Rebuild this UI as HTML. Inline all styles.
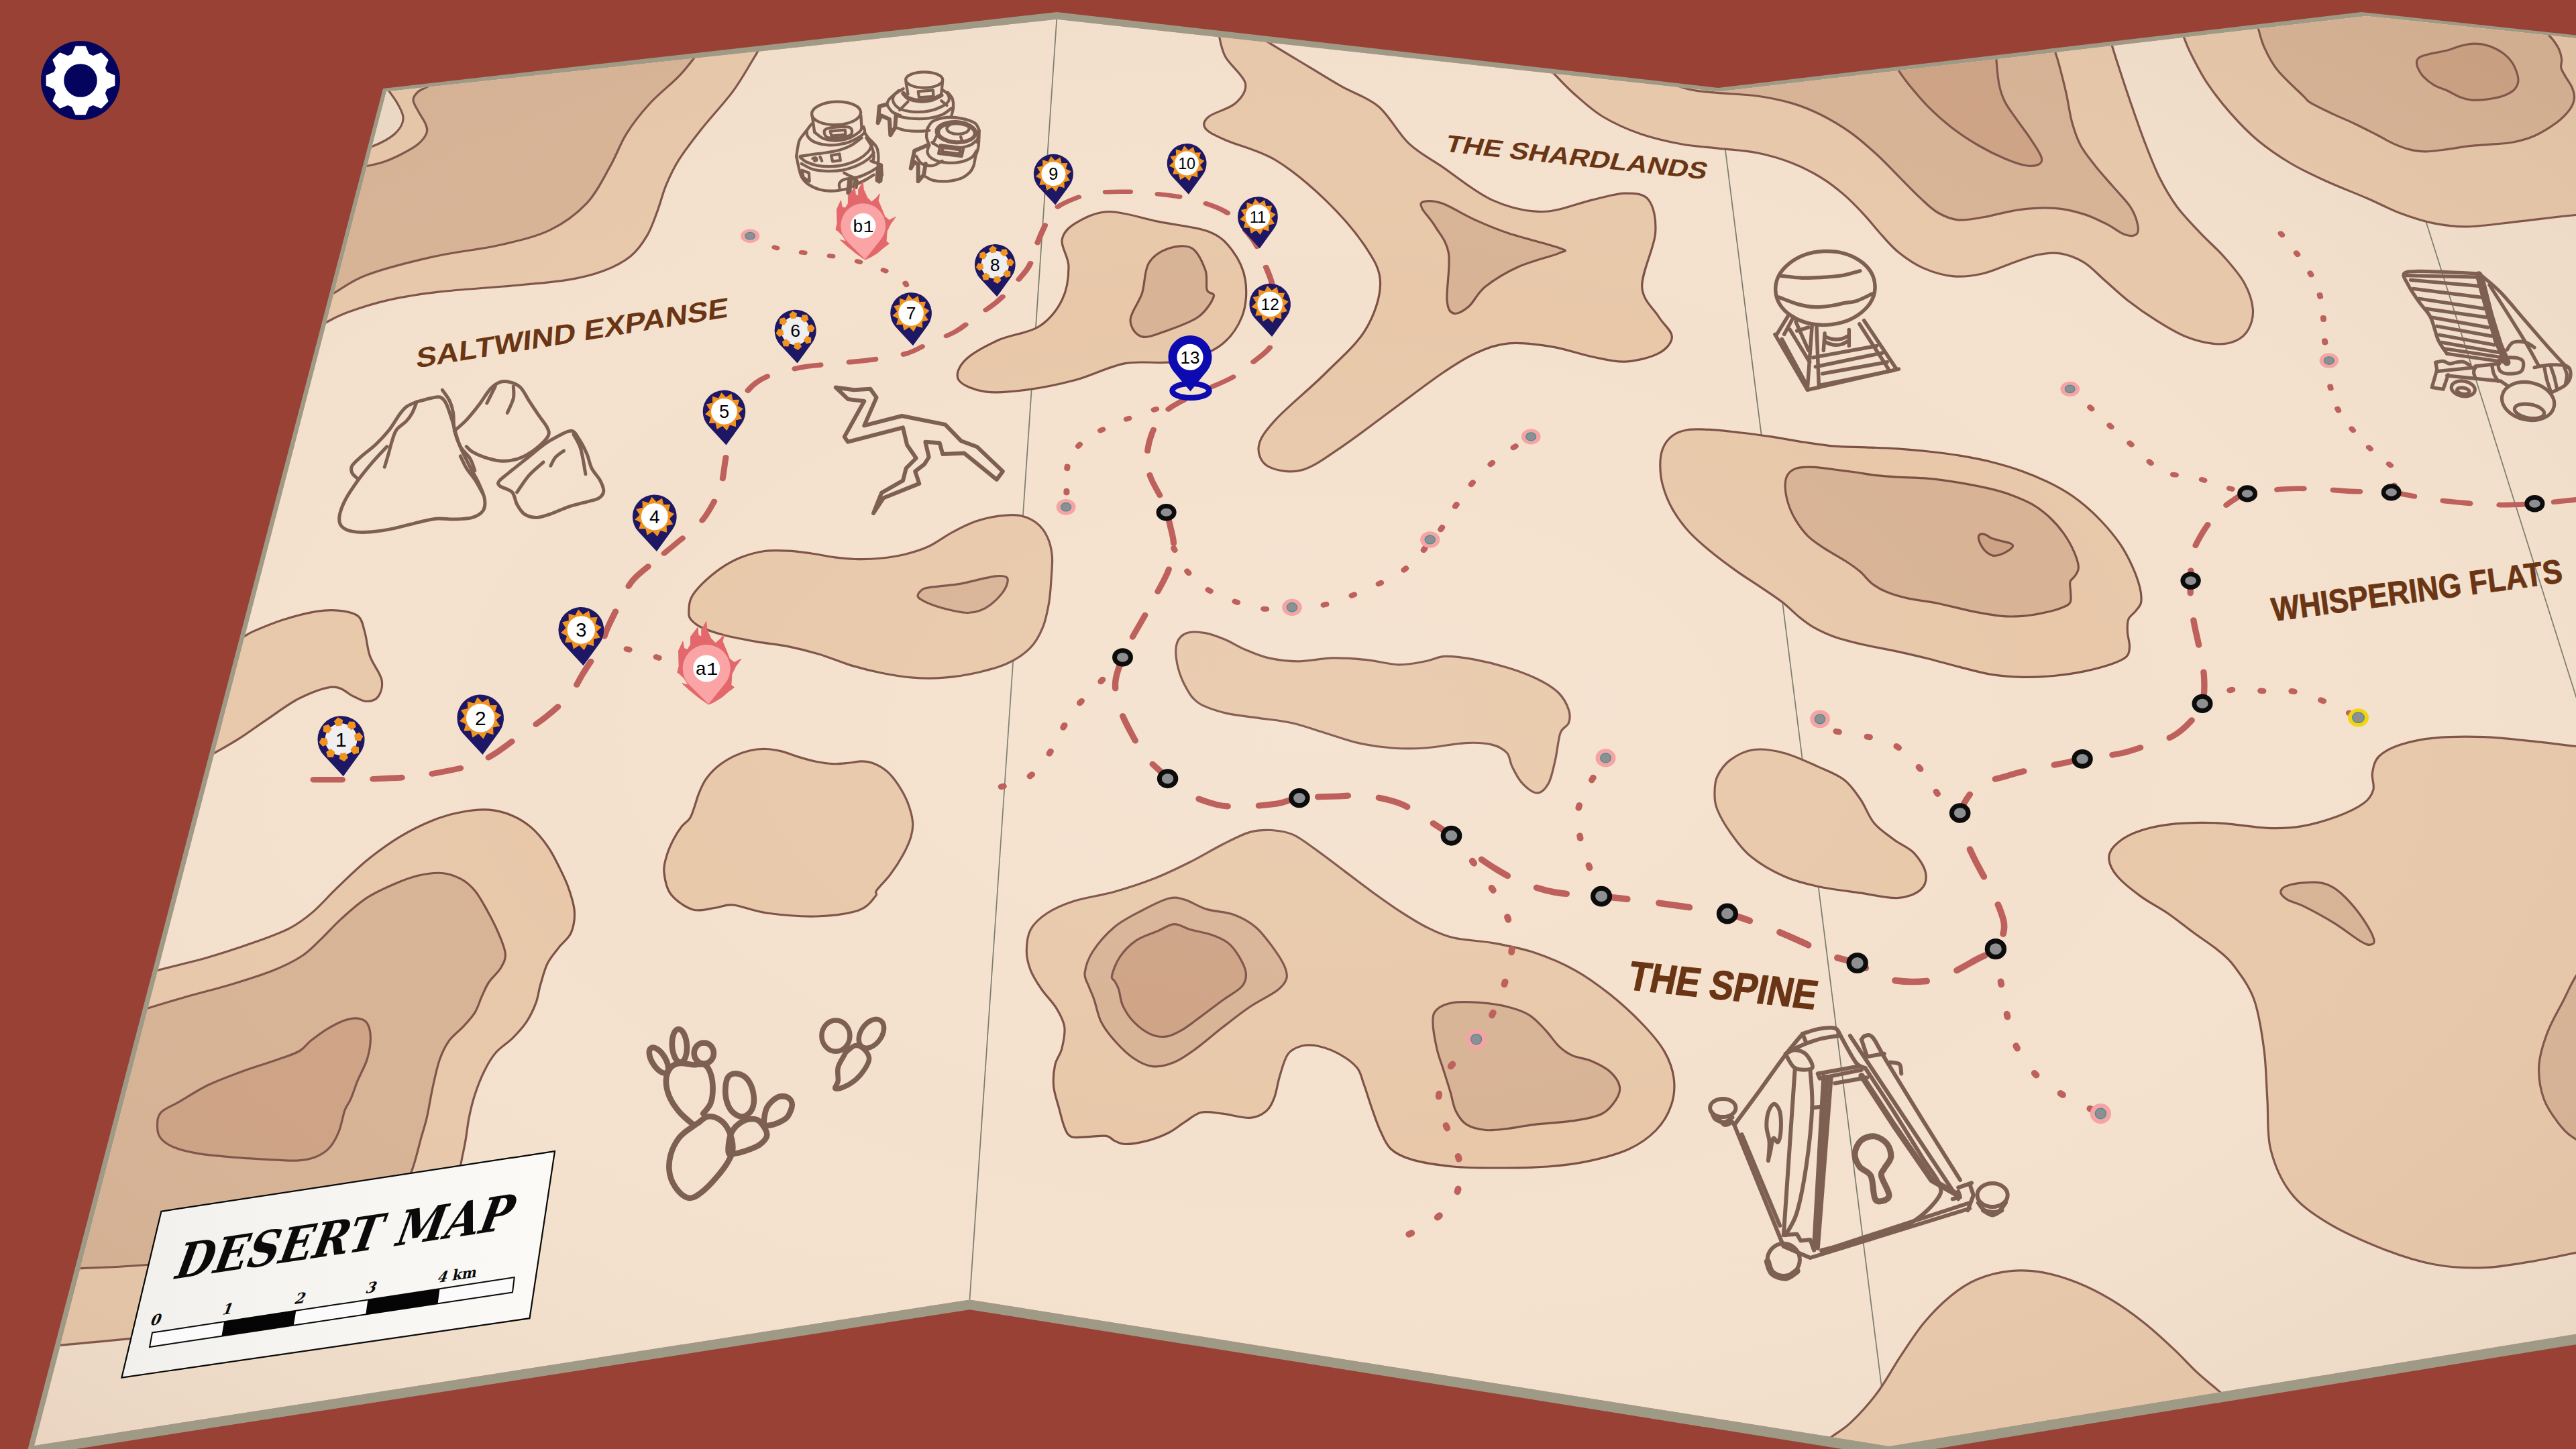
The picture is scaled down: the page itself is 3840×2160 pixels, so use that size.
<!DOCTYPE html>
<html lang="en"><head><meta charset="utf-8"><title>Desert Map</title>
<style>html,body{margin:0;padding:0;background:#9a4135;overflow:hidden}
svg{display:block}
text{font-family:"Liberation Sans",sans-serif}
</style></head><body>
<svg xmlns="http://www.w3.org/2000/svg" width="3840" height="2160" viewBox="0 0 3840 2160">

<defs>
<clipPath id="mapclip"><path d="M576 136.5L1575.2 28.7L2561 136.7L3527.5 24L3850 58L3850 1987L2816 2155.7L1445.5 1937.4L51 2155Z"/></clipPath>
<radialGradient id="vig" cx="0.5" cy="0.5" r="0.75" gradientUnits="objectBoundingBox">
<stop offset="0" stop-color="#fff" stop-opacity="0.10"/>
<stop offset="0.4" stop-color="#fff" stop-opacity="0"/>
<stop offset="1" stop-color="#8a6a50" stop-opacity="0.13"/>
</radialGradient>
<path id="pin" d="M0 0L-26.1 -28.1A31.5 31.5 0 1 1 22.5 -31Z"/>
<g id="sunpin"><use href="#pin" fill="#1d1766"/><path d="M-4 -28.2L2.6 -21.3L10.7 -26.4L12.9 -17.2L22.5 -17.5L19.8 -8.4L28.2 -4L21.3 2.6L26.4 10.7L17.2 12.9L17.5 22.5L8.4 19.8L4 28.2L-2.6 21.3L-10.7 26.4L-12.9 17.2L-22.5 17.5L-19.8 8.4L-28.2 4L-21.3 -2.6L-26.4 -10.7L-17.2 -12.9L-17.5 -22.5L-8.4 -19.8Z" fill="#f0941f" transform="translate(-3 -49.5)"/><circle cx="-3" cy="-49.5" r="19.2" fill="#fff"/></g>
<g id="gearpin"><use href="#pin" fill="#1d1766"/><g transform="translate(-3 -49.5)"><circle r="21.5" fill="#efefef"/><path d="M-4 -28.6L1.6 -25.6L0.5 -19.4L-5.8 -18.5L-8.6 -24.2Z" fill="#f0941f" stroke="#f0941f" stroke-width="1.5" stroke-linejoin="round"/><path d="M17.4 -23.1L19.2 -17L14 -13.4L9 -17.2L11 -23.2Z" fill="#f0941f" stroke="#f0941f" stroke-width="1.5" stroke-linejoin="round"/><path d="M28.6 -4L25.6 1.6L19.4 0.5L18.5 -5.8L24.2 -8.6Z" fill="#f0941f" stroke="#f0941f" stroke-width="1.5" stroke-linejoin="round"/><path d="M23.1 17.4L17 19.2L13.4 14L17.2 9L23.2 11Z" fill="#f0941f" stroke="#f0941f" stroke-width="1.5" stroke-linejoin="round"/><path d="M4 28.6L-1.6 25.6L-0.5 19.4L5.8 18.5L8.6 24.2Z" fill="#f0941f" stroke="#f0941f" stroke-width="1.5" stroke-linejoin="round"/><path d="M-17.4 23.1L-19.2 17L-14 13.4L-9 17.2L-11 23.2Z" fill="#f0941f" stroke="#f0941f" stroke-width="1.5" stroke-linejoin="round"/><path d="M-28.6 4L-25.6 -1.6L-19.4 -0.5L-18.5 5.8L-24.2 8.6Z" fill="#f0941f" stroke="#f0941f" stroke-width="1.5" stroke-linejoin="round"/><path d="M-23.1 -17.4L-17 -19.2L-13.4 -14L-17.2 -9L-23.2 -11Z" fill="#f0941f" stroke="#f0941f" stroke-width="1.5" stroke-linejoin="round"/></g></g>
<g id="flamepin"><path d="M0 0.6L-15.1 -9.9L-29 -21.4L-39.4 -30.7L-30.1 -28.4L-35.9 -37.7L-42.9 -44.6L-46.4 -47L-44.1 -56.2L-44.6 -79.4L-38.3 -93.3L-36.5 -82.9L-31.3 -81.2L-26.7 -88.7L-26.7 -100.3L-16.2 -114.2L-15.1 -102.6L-10.4 -100.3L-10.4 -110.7L-3.5 -122.9L-2.3 -110.7L3.5 -98L10.4 -91L17.4 -96.8L23.2 -103.8L20.9 -93.3L26.7 -79.4L31.3 -67.8L38.3 -62L48.7 -67.2L40.6 -56.2L34.8 -44.6L33.6 -28.4L38.3 -24.9L29 -18L19.7 -9.9L8.1 -2.9Z" fill="#e3676b" stroke="#e3676b" stroke-width="1" stroke-linejoin="round"/><path d="M0 0L-28 -27.8A35.5 35.5 0 1 1 24.7 -30.8Z" fill="#fba4a6"/><circle cx="-3" cy="-53" r="20" fill="#fff"/></g>
</defs>
<rect width="3840" height="2160" fill="#9a4135"/>
<path d="M51 2155L1445.5 1937.4L2816 2155.7L3850 1987L3850 2002.5L2816 2171.2L1445.5 1952.2L43 2171Z" fill="#9f9a86"/>
<path d="M41 2162L571 132L1575.5 18L2561 131L3520 18L3850 53.5L3850 58L3527.5 24L2561 136.7L1575.2 28.7L576 136.5L51 2155L43 2171Z" fill="#9f9a86"/>
<path d="M576 136.5L1575.2 28.7L2561 136.7L3527.5 24L3850 58L3850 1987L2816 2155.7L1445.5 1937.4L51 2155Z" fill="#f4e1cd"/>
<g clip-path="url(#mapclip)">
<g stroke="#767a6a" stroke-width="1.7" fill="none">
<path d="M1575.2 28.7L1445.5 1937.4"/>
<path d="M2561 136.7L2816 2155.7"/>
<path d="M3519 22L3850 1070"/>
</g>
<g stroke="#7d5046" stroke-width="3.2" stroke-linejoin="round" stroke-linecap="round">
<path d="M1132.5 71.4C1130.7 74.5 1128.4 79.1 1121.7 90C1114.9 100.9 1104.9 119.5 1092.2 136.6C1079.5 153.7 1059 175.4 1045.6 192.5C1032.1 209.6 1020.2 225.1 1011.4 239.1C1002.6 253 998 263.9 992.8 276.3C987.6 288.8 985 301.2 980.4 313.6C975.7 326 971.6 339.5 964.8 350.9C958.1 362.3 950.9 373.1 940 381.9C929.1 390.7 915.7 397.7 899.6 403.7C883.6 409.6 868.6 413.8 843.7 417.6C818.9 421.5 781.6 424.1 750.6 427C719.5 429.8 685.9 431.4 657.4 434.7C628.9 438.1 603 442 579.8 447.1C556.5 452.3 533.9 459.8 517.6 465.8C501.3 471.7 491.8 477.9 481.9 482.9C472.1 487.8 462.5 493.2 458.6 495.3L400 500L400 0L1140 0Z" fill="#e8c8a9" stroke="none"/>
<path d="M1132.5 71.4C1130.7 74.5 1128.4 79.1 1121.7 90C1114.9 100.9 1104.9 119.5 1092.2 136.6C1079.5 153.7 1059 175.4 1045.6 192.5C1032.1 209.6 1020.2 225.1 1011.4 239.1C1002.6 253 998 263.9 992.8 276.3C987.6 288.8 985 301.2 980.4 313.6C975.7 326 971.6 339.5 964.8 350.9C958.1 362.3 950.9 373.1 940 381.9C929.1 390.7 915.7 397.7 899.6 403.7C883.6 409.6 868.6 413.8 843.7 417.6C818.9 421.5 781.6 424.1 750.6 427C719.5 429.8 685.9 431.4 657.4 434.7C628.9 438.1 603 442 579.8 447.1C556.5 452.3 533.9 459.8 517.6 465.8C501.3 471.7 491.8 477.9 481.9 482.9C472.1 487.8 462.5 493.2 458.6 495.3" fill="none"/>
<path d="M462.1 452.2C464.6 450.9 471.2 447.2 477 444.7C482.8 442.2 485.3 443.1 496.9 437.3C508.5 431.5 521.7 419 546.6 409.9C571.4 400.8 612.8 390.1 646 382.6C679.1 375.2 716.4 371.8 745.3 365.2C774.3 358.6 798.3 353.2 819.9 342.9C841.4 332.5 859.6 318.8 874.5 303.1C889.4 287.4 899.4 265.8 909.3 248.4C919.3 231.1 924.2 214.5 934.2 198.8C944.1 183 955.7 168.5 968.9 154C982.2 139.5 1001.2 125.1 1013.7 111.8C1026.1 98.6 1036 84.9 1043.5 74.5C1050.9 64.2 1055.9 53.8 1058.4 49.7L1070 0L400 0L400 455Z" fill="#d8b395" stroke="none"/>
<path d="M462.1 452.2C464.6 450.9 471.2 447.2 477 444.7C482.8 442.2 485.3 443.1 496.9 437.3C508.5 431.5 521.7 419 546.6 409.9C571.4 400.8 612.8 390.1 646 382.6C679.1 375.2 716.4 371.8 745.3 365.2C774.3 358.6 798.3 353.2 819.9 342.9C841.4 332.5 859.6 318.8 874.5 303.1C889.4 287.4 899.4 265.8 909.3 248.4C919.3 231.1 924.2 214.5 934.2 198.8C944.1 183 955.7 168.5 968.9 154C982.2 139.5 1001.2 125.1 1013.7 111.8C1026.1 98.6 1036 84.9 1043.5 74.5C1050.9 64.2 1055.9 53.8 1058.4 49.7" fill="none"/>
<path d="M650 112C649.2 113.3 646.7 117.4 645 120C643.3 122.6 643.3 124.9 639.6 127.7C635.9 130.5 626.9 133.4 623 137C619.1 140.6 615.8 144.4 616 149.4C616.2 154.4 621 161 624 166.8C627 172.6 632 178.8 634 184C636 189.2 637.8 192.8 636 198C634.2 203.2 629.3 209.7 623 215C616.7 220.3 606.8 225.5 598 230C589.2 234.5 580.5 238.7 570 242C559.5 245.3 544.2 248 535 250C525.8 252 518.3 253.3 515 254L400 260L400 0L650 0Z" fill="#e8c8a9" stroke="none"/>
<path d="M650 112C649.2 113.3 646.7 117.4 645 120C643.3 122.6 643.3 124.9 639.6 127.7C635.9 130.5 626.9 133.4 623 137C619.1 140.6 615.8 144.4 616 149.4C616.2 154.4 621 161 624 166.8C627 172.6 632 178.8 634 184C636 189.2 637.8 192.8 636 198C634.2 203.2 629.3 209.7 623 215C616.7 220.3 606.8 225.5 598 230C589.2 234.5 580.5 238.7 570 242C559.5 245.3 544.2 248 535 250C525.8 252 518.3 253.3 515 254" fill="none"/>
<path d="M572 122C572.5 123 573.8 125.8 575 128C576.2 130.2 576.6 130.8 579.4 135C582.2 139.2 588.3 146.9 591.8 153C595.3 159.1 599.3 166.4 600.5 171.8C601.7 177.2 600.9 181 599 185.5C597.1 190 593.3 194.9 589 199C584.7 203.1 579 206.7 573 210C567 213.3 559.3 216.7 553 219C546.7 221.3 540.5 222.7 535 224C529.5 225.3 522.5 226.5 520 227L400 230L400 0L572 0Z" fill="#eedcc8" stroke="none"/>
<path d="M572 122C572.5 123 573.8 125.8 575 128C576.2 130.2 576.6 130.8 579.4 135C582.2 139.2 588.3 146.9 591.8 153C595.3 159.1 599.3 166.4 600.5 171.8C601.7 177.2 600.9 181 599 185.5C597.1 190 593.3 194.9 589 199C584.7 203.1 579 206.7 573 210C567 213.3 559.3 216.7 553 219C546.7 221.3 540.5 222.7 535 224C529.5 225.3 522.5 226.5 520 227" fill="none"/>
<path d="M1583.1 357.8C1584.8 347 1591.4 340 1603 332.9C1614.6 325.9 1632 315.9 1652.7 315.5C1673.4 315.1 1702.4 325.5 1727.2 330.4C1752 335.4 1783.5 338.3 1801.7 345.3C1820 352.4 1827.4 360.7 1836.5 372.7C1845.6 384.7 1853.9 400.8 1856.4 417.4C1858.9 434 1858.1 455.5 1851.4 472C1844.8 488.6 1833.2 505.6 1816.6 516.8C1800.1 528 1775.2 535 1752 539.1C1728.9 543.3 1702.4 537.1 1677.5 541.6C1652.7 546.2 1627.8 559.8 1603 566.5C1578.1 573.1 1550.8 578.5 1528.4 581.4C1506.1 584.3 1485.4 586.3 1468.8 583.9C1452.3 581.4 1434 574.3 1429.1 566.5C1424.1 558.6 1429.1 546.6 1439 536.6C1448.9 526.7 1470.5 515.1 1488.7 506.8C1506.9 498.6 1532.6 496.9 1548.3 487C1564.1 477 1575.7 462.1 1583.1 447.2C1590.6 432.3 1593 412.4 1593 397.5C1593 382.6 1581.4 368.5 1583.1 357.8Z" fill="#e8c8a9"/>
<path d="M1712.3 392.5C1718.9 381.4 1731.3 373.9 1742.1 370.2C1752.9 366.5 1767.8 364.8 1776.9 370.2C1786 375.6 1793 392.1 1796.8 402.5C1800.5 412.8 1797.2 425.7 1799.3 432.3C1801.3 438.9 1811.3 435.6 1809.2 442.2C1807.1 448.9 1798 463.8 1786.8 472C1775.7 480.3 1756.2 487 1742.1 491.9C1728 496.9 1711.9 504.3 1702.4 501.9C1692.8 499.4 1685 487.8 1685 477C1685 466.3 1697.8 451.3 1702.4 437.3C1706.9 423.2 1705.7 403.7 1712.3 392.5Z" fill="#d8b395"/>
<path d="M1814.2 29.8C1814.6 33.1 1814.6 40.6 1816.6 49.7C1818.7 58.8 1820 72 1826.6 84.5C1833.2 96.9 1853.9 112.6 1856.4 124.2C1858.9 135.8 1850.6 145.8 1841.5 154C1832.4 162.3 1809.2 167.7 1801.7 173.9C1794.3 180.1 1792.6 185.5 1796.8 191.3C1800.9 197.1 1809.2 200.8 1826.6 208.7C1844 216.6 1876.3 223.6 1901.1 238.5C1926 253.4 1953.3 276.6 1975.7 298.1C1998 319.7 2021.6 347 2035.3 367.7C2048.9 388.4 2057.6 401.7 2057.6 422.4C2057.6 443.1 2048.9 469.6 2035.3 491.9C2021.6 514.3 1998 534.2 1975.7 556.5C1953.3 578.9 1917.7 607.9 1901.1 626.1C1884.6 644.3 1877.9 654.2 1876.3 665.8C1874.6 677.4 1880.4 689.9 1891.2 695.7C1901.9 701.4 1922.7 705.6 1940.9 700.6C1959.1 695.7 1978.1 680.7 2000.5 665.8C2022.9 650.9 2050.2 629.4 2075 611.2C2099.9 593 2128.9 570.6 2149.6 556.5C2170.3 542.4 2182.7 534.2 2199.3 526.7C2215.8 519.3 2229.9 513.5 2248.9 511.8C2268 510.1 2292.8 513.5 2313.5 516.8C2334.2 520.1 2354.9 528 2373.2 531.7C2391.4 535.4 2406.3 540 2422.9 539.1C2439.4 538.3 2461 532.9 2472.5 526.7C2484.1 520.5 2492.4 511 2492.4 501.9C2492.4 492.8 2480 484.5 2472.5 472C2465.1 459.6 2448.5 448 2447.7 427.3C2446.9 406.6 2465.9 369.4 2467.6 347.8C2469.2 326.3 2465.1 308.1 2457.6 298.1C2450.2 288.2 2436.9 288.2 2422.9 288.2C2408.8 288.2 2393.9 293.6 2373.2 298.1C2352.5 302.7 2323.5 315.5 2298.6 315.5C2273.8 315.5 2248.9 309.3 2224.1 298.1C2199.3 287 2170.3 262.5 2149.6 248.4C2128.9 234.4 2115.6 228.6 2099.9 213.7C2084.1 198.8 2071.7 173.1 2055.2 159C2038.6 144.9 2017.9 139.1 2000.5 129.2C1983.1 119.3 1970.7 111.4 1950.8 99.4C1930.9 87.4 1896.1 66.7 1881.2 57.1C1866.3 47.6 1864.7 44.7 1861.4 42.2L1861 0L1814 0Z" fill="#e8c8a9" stroke="none"/>
<path d="M1814.2 29.8C1814.6 33.1 1814.6 40.6 1816.6 49.7C1818.7 58.8 1820 72 1826.6 84.5C1833.2 96.9 1853.9 112.6 1856.4 124.2C1858.9 135.8 1850.6 145.8 1841.5 154C1832.4 162.3 1809.2 167.7 1801.7 173.9C1794.3 180.1 1792.6 185.5 1796.8 191.3C1800.9 197.1 1809.2 200.8 1826.6 208.7C1844 216.6 1876.3 223.6 1901.1 238.5C1926 253.4 1953.3 276.6 1975.7 298.1C1998 319.7 2021.6 347 2035.3 367.7C2048.9 388.4 2057.6 401.7 2057.6 422.4C2057.6 443.1 2048.9 469.6 2035.3 491.9C2021.6 514.3 1998 534.2 1975.7 556.5C1953.3 578.9 1917.7 607.9 1901.1 626.1C1884.6 644.3 1877.9 654.2 1876.3 665.8C1874.6 677.4 1880.4 689.9 1891.2 695.7C1901.9 701.4 1922.7 705.6 1940.9 700.6C1959.1 695.7 1978.1 680.7 2000.5 665.8C2022.9 650.9 2050.2 629.4 2075 611.2C2099.9 593 2128.9 570.6 2149.6 556.5C2170.3 542.4 2182.7 534.2 2199.3 526.7C2215.8 519.3 2229.9 513.5 2248.9 511.8C2268 510.1 2292.8 513.5 2313.5 516.8C2334.2 520.1 2354.9 528 2373.2 531.7C2391.4 535.4 2406.3 540 2422.9 539.1C2439.4 538.3 2461 532.9 2472.5 526.7C2484.1 520.5 2492.4 511 2492.4 501.9C2492.4 492.8 2480 484.5 2472.5 472C2465.1 459.6 2448.5 448 2447.7 427.3C2446.9 406.6 2465.9 369.4 2467.6 347.8C2469.2 326.3 2465.1 308.1 2457.6 298.1C2450.2 288.2 2436.9 288.2 2422.9 288.2C2408.8 288.2 2393.9 293.6 2373.2 298.1C2352.5 302.7 2323.5 315.5 2298.6 315.5C2273.8 315.5 2248.9 309.3 2224.1 298.1C2199.3 287 2170.3 262.5 2149.6 248.4C2128.9 234.4 2115.6 228.6 2099.9 213.7C2084.1 198.8 2071.7 173.1 2055.2 159C2038.6 144.9 2017.9 139.1 2000.5 129.2C1983.1 119.3 1970.7 111.4 1950.8 99.4C1930.9 87.4 1896.1 66.7 1881.2 57.1C1866.3 47.6 1864.7 44.7 1861.4 42.2" fill="none"/>
<path d="M2122.2 300.6C2127.2 299.4 2136.7 298.6 2149.6 303.1C2162.4 307.7 2182.7 320.5 2199.3 328C2215.8 335.4 2227.8 340.8 2248.9 347.8C2270.1 354.9 2313.5 365.2 2326 370.2C2338.4 375.2 2333.8 373.1 2323.5 377.6C2313.1 382.2 2282.1 389.2 2263.9 397.5C2245.6 405.8 2226.6 417.4 2214.2 427.3C2201.7 437.3 2197.2 450.5 2189.3 457.1C2181.4 463.8 2172.3 468.7 2167 467.1C2161.6 465.4 2158.3 462.1 2157 447.2C2155.8 432.3 2162.4 395.9 2159.5 377.6C2156.6 359.4 2146.3 349.1 2139.6 337.9C2133 326.7 2122.7 316.8 2119.8 310.6C2116.9 304.3 2117.3 301.9 2122.2 300.6Z" fill="#d8b395"/>
<path d="M2297.4 86.5C2298.8 88.7 2302.8 95.6 2306.1 99.6C2309.3 103.6 2310.4 103.9 2317 110.4C2323.5 117 2333.3 128.2 2345.2 138.7C2357.2 149.2 2372 163.3 2388.7 173.5C2405.4 183.6 2425.7 192.7 2445.2 199.6C2464.8 206.4 2486.5 211.2 2506.1 214.8C2525.7 218.4 2543.8 219.1 2562.6 221.3C2581.4 223.5 2601 224.2 2619.1 227.8C2637.2 231.4 2655.4 236.9 2671.3 243C2687.2 249.2 2701.7 256.8 2714.8 264.8C2727.8 272.8 2738.7 281.4 2749.6 290.9C2760.4 300.3 2770.6 311.2 2780 321.3C2789.4 331.4 2797.4 342.3 2806.1 351.7C2814.8 361.2 2822 369.9 2832.2 377.8C2842.3 385.8 2853.9 393.9 2867 399.6C2880 405.2 2895.9 410.3 2910.4 411.7C2924.9 413.2 2939.4 411.4 2953.9 408.3C2968.4 405.1 2983.6 397.8 2997.4 393C3011.2 388.3 3024.2 382.5 3036.5 380C3048.8 377.5 3059.7 376 3071.3 377.8C3082.9 379.6 3095.2 384.3 3106.1 390.9C3117 397.4 3125.7 407.5 3136.5 417C3147.4 426.4 3158.3 437.2 3171.3 447.4C3184.3 457.5 3200.3 468.8 3214.8 477.8C3229.3 486.9 3243.8 495.9 3258.3 501.7C3272.8 507.5 3289.4 511.5 3301.7 512.6C3314.1 513.7 3323.8 511.9 3332.2 508.3C3340.5 504.6 3347.4 498.8 3351.7 490.9C3356.1 482.9 3359.3 472 3358.3 460.4C3357.2 448.8 3352.5 434.3 3345.2 421.3C3338 408.3 3325.7 394.5 3314.8 382.2C3303.9 369.9 3291.6 359.7 3280 347.4C3268.4 335.1 3255.4 322 3245.2 308.3C3235.1 294.5 3227.1 280.7 3219.1 264.8C3211.2 248.8 3204.6 231.4 3197.4 212.6C3190.1 193.8 3182.2 170.6 3175.7 151.7C3169.1 132.9 3163 114.1 3158.3 99.6C3153.6 85.1 3149.9 73.5 3147.4 64.8C3144.9 56.1 3143.8 50.3 3143 47.4L3143 0L2297 0Z" fill="#e8c8a9" stroke="none"/>
<path d="M2297.4 86.5C2298.8 88.7 2302.8 95.6 2306.1 99.6C2309.3 103.6 2310.4 103.9 2317 110.4C2323.5 117 2333.3 128.2 2345.2 138.7C2357.2 149.2 2372 163.3 2388.7 173.5C2405.4 183.6 2425.7 192.7 2445.2 199.6C2464.8 206.4 2486.5 211.2 2506.1 214.8C2525.7 218.4 2543.8 219.1 2562.6 221.3C2581.4 223.5 2601 224.2 2619.1 227.8C2637.2 231.4 2655.4 236.9 2671.3 243C2687.2 249.2 2701.7 256.8 2714.8 264.8C2727.8 272.8 2738.7 281.4 2749.6 290.9C2760.4 300.3 2770.6 311.2 2780 321.3C2789.4 331.4 2797.4 342.3 2806.1 351.7C2814.8 361.2 2822 369.9 2832.2 377.8C2842.3 385.8 2853.9 393.9 2867 399.6C2880 405.2 2895.9 410.3 2910.4 411.7C2924.9 413.2 2939.4 411.4 2953.9 408.3C2968.4 405.1 2983.6 397.8 2997.4 393C3011.2 388.3 3024.2 382.5 3036.5 380C3048.8 377.5 3059.7 376 3071.3 377.8C3082.9 379.6 3095.2 384.3 3106.1 390.9C3117 397.4 3125.7 407.5 3136.5 417C3147.4 426.4 3158.3 437.2 3171.3 447.4C3184.3 457.5 3200.3 468.8 3214.8 477.8C3229.3 486.9 3243.8 495.9 3258.3 501.7C3272.8 507.5 3289.4 511.5 3301.7 512.6C3314.1 513.7 3323.8 511.9 3332.2 508.3C3340.5 504.6 3347.4 498.8 3351.7 490.9C3356.1 482.9 3359.3 472 3358.3 460.4C3357.2 448.8 3352.5 434.3 3345.2 421.3C3338 408.3 3325.7 394.5 3314.8 382.2C3303.9 369.9 3291.6 359.7 3280 347.4C3268.4 335.1 3255.4 322 3245.2 308.3C3235.1 294.5 3227.1 280.7 3219.1 264.8C3211.2 248.8 3204.6 231.4 3197.4 212.6C3190.1 193.8 3182.2 170.6 3175.7 151.7C3169.1 132.9 3163 114.1 3158.3 99.6C3153.6 85.1 3149.9 73.5 3147.4 64.8C3144.9 56.1 3143.8 50.3 3143 47.4" fill="none"/>
<path d="M2471.3 112.6C2474.2 114.4 2480 119.9 2488.7 123.5C2497.4 127.1 2511.2 131.8 2523.5 134.3C2535.8 136.9 2546.7 137.2 2562.6 138.7C2578.6 140.1 2601 140.5 2619.1 143C2637.2 145.6 2655.4 149.2 2671.3 153.9C2687.2 158.6 2700.3 164.1 2714.8 171.3C2729.3 178.6 2744.5 187.6 2758.3 197.4C2772 207.2 2785.1 218.8 2797.4 230C2809.7 241.2 2821.3 253.9 2832.2 264.8C2843 275.7 2853.2 286.5 2862.6 295.2C2872 303.9 2879.3 311.5 2888.7 317C2898.1 322.4 2907.5 326.7 2919.1 327.8C2930.7 328.9 2943 326 2958.3 323.5C2973.5 320.9 2993 314.8 3010.4 312.6C3027.8 310.4 3046.7 309.3 3062.6 310.4C3078.6 311.5 3093 315.1 3106.1 319.1C3119.1 323.1 3130.7 329.3 3140.9 334.3C3151 339.4 3159.7 347 3167 349.6C3174.2 352.1 3181.1 352.1 3184.3 349.6C3187.6 347 3188 341.2 3186.5 334.3C3185.1 327.5 3181.8 317.7 3175.7 308.3C3169.5 298.8 3158.3 288 3149.6 277.8C3140.9 267.7 3131.4 257.5 3123.5 247.4C3115.5 237.2 3107.5 227.8 3101.7 217C3095.9 206.1 3092.3 195.2 3088.7 182.2C3085.1 169.1 3083.3 153.2 3080 138.7C3076.7 124.2 3072 106.1 3069.1 95.2C3066.2 84.3 3064.1 80 3062.6 73.5C3061.2 67 3060.8 59 3060.4 56.1L3060 0L2470 0Z" fill="#d8b395" stroke="none"/>
<path d="M2471.3 112.6C2474.2 114.4 2480 119.9 2488.7 123.5C2497.4 127.1 2511.2 131.8 2523.5 134.3C2535.8 136.9 2546.7 137.2 2562.6 138.7C2578.6 140.1 2601 140.5 2619.1 143C2637.2 145.6 2655.4 149.2 2671.3 153.9C2687.2 158.6 2700.3 164.1 2714.8 171.3C2729.3 178.6 2744.5 187.6 2758.3 197.4C2772 207.2 2785.1 218.8 2797.4 230C2809.7 241.2 2821.3 253.9 2832.2 264.8C2843 275.7 2853.2 286.5 2862.6 295.2C2872 303.9 2879.3 311.5 2888.7 317C2898.1 322.4 2907.5 326.7 2919.1 327.8C2930.7 328.9 2943 326 2958.3 323.5C2973.5 320.9 2993 314.8 3010.4 312.6C3027.8 310.4 3046.7 309.3 3062.6 310.4C3078.6 311.5 3093 315.1 3106.1 319.1C3119.1 323.1 3130.7 329.3 3140.9 334.3C3151 339.4 3159.7 347 3167 349.6C3174.2 352.1 3181.1 352.1 3184.3 349.6C3187.6 347 3188 341.2 3186.5 334.3C3185.1 327.5 3181.8 317.7 3175.7 308.3C3169.5 298.8 3158.3 288 3149.6 277.8C3140.9 267.7 3131.4 257.5 3123.5 247.4C3115.5 237.2 3107.5 227.8 3101.7 217C3095.9 206.1 3092.3 195.2 3088.7 182.2C3085.1 169.1 3083.3 153.2 3080 138.7C3076.7 124.2 3072 106.1 3069.1 95.2C3066.2 84.3 3064.1 80 3062.6 73.5C3061.2 67 3060.8 59 3060.4 56.1" fill="none"/>
<path d="M2817 86.5C2818.8 89.1 2823.1 95.2 2827.8 101.7C2832.5 108.3 2837.2 115.9 2845.2 125.7C2853.2 135.4 2864.8 149.6 2875.7 160.4C2886.5 171.3 2898.1 181.4 2910.4 190.9C2922.8 200.3 2936.5 209.3 2949.6 217C2962.6 224.6 2977.1 231.6 2988.7 236.5C3000.3 241.4 3010.8 245.1 3019.1 246.5C3027.5 248 3034.7 247.2 3038.7 245.2C3042.7 243.2 3044.9 240.5 3043 234.3C3041.2 228.2 3034 217.7 3027.8 208.3C3021.7 198.8 3012.6 187.2 3006.1 177.8C2999.6 168.4 2993 160.4 2988.7 151.7C2984.3 143 2982.2 136.5 2980 125.7C2977.8 114.8 2976.5 95.9 2975.7 86.5C2974.8 77.1 2974.9 72 2974.8 69.1L2975 0L2817 0Z" fill="#cea284" stroke="none"/>
<path d="M2817 86.5C2818.8 89.1 2823.1 95.2 2827.8 101.7C2832.5 108.3 2837.2 115.9 2845.2 125.7C2853.2 135.4 2864.8 149.6 2875.7 160.4C2886.5 171.3 2898.1 181.4 2910.4 190.9C2922.8 200.3 2936.5 209.3 2949.6 217C2962.6 224.6 2977.1 231.6 2988.7 236.5C3000.3 241.4 3010.8 245.1 3019.1 246.5C3027.5 248 3034.7 247.2 3038.7 245.2C3042.7 243.2 3044.9 240.5 3043 234.3C3041.2 228.2 3034 217.7 3027.8 208.3C3021.7 198.8 3012.6 187.2 3006.1 177.8C2999.6 168.4 2993 160.4 2988.7 151.7C2984.3 143 2982.2 136.5 2980 125.7C2977.8 114.8 2976.5 95.9 2975.7 86.5C2974.8 77.1 2974.9 72 2974.8 69.1" fill="none"/>
<path d="M3245.7 29.8C3247 33.1 3249.9 41.4 3253.2 49.7C3256.5 58 3259.4 67.1 3265.6 79.5C3271.8 91.9 3280.5 109.3 3290.4 124.2C3300.4 139.1 3312.8 154.9 3325.2 168.9C3337.6 183 3350.1 196.3 3365 208.7C3379.9 221.1 3397.3 233.1 3414.7 243.5C3432 253.8 3450.3 262.1 3469.3 270.8C3488.4 279.5 3510.7 287.8 3528.9 295.7C3547.2 303.5 3562.1 311.8 3578.6 318C3595.2 324.2 3611.8 329.6 3628.3 332.9C3644.9 336.2 3657.3 338.3 3678 337.9C3698.7 337.5 3725.5 333.3 3752.5 330.4C3779.5 327.5 3815.2 322.6 3840 320.5C3864.8 318.4 3891.3 318.4 3901.6 318L3900 0L3245 0Z" fill="#e8c8a9" stroke="none"/>
<path d="M3245.7 29.8C3247 33.1 3249.9 41.4 3253.2 49.7C3256.5 58 3259.4 67.1 3265.6 79.5C3271.8 91.9 3280.5 109.3 3290.4 124.2C3300.4 139.1 3312.8 154.9 3325.2 168.9C3337.6 183 3350.1 196.3 3365 208.7C3379.9 221.1 3397.3 233.1 3414.7 243.5C3432 253.8 3450.3 262.1 3469.3 270.8C3488.4 279.5 3510.7 287.8 3528.9 295.7C3547.2 303.5 3562.1 311.8 3578.6 318C3595.2 324.2 3611.8 329.6 3628.3 332.9C3644.9 336.2 3657.3 338.3 3678 337.9C3698.7 337.5 3725.5 333.3 3752.5 330.4C3779.5 327.5 3815.2 322.6 3840 320.5C3864.8 318.4 3891.3 318.4 3901.6 318" fill="none"/>
<path d="M3360 19.9C3360.8 22.8 3362.5 29 3365 37.3C3367.5 45.5 3369.9 58.4 3374.9 69.6C3379.9 80.7 3384.8 91.9 3394.8 104.3C3404.7 116.8 3426.3 135.9 3434.5 144.1C3442.8 152.3 3437.4 149 3444.5 153.3C3451.5 157.5 3466.2 164.4 3477.1 169.6C3487.9 174.7 3498.8 179.1 3509.7 184.2C3520.5 189.4 3532.8 195.7 3542.3 200.5C3551.8 205.4 3558.6 209.9 3566.7 213.6C3574.9 217.3 3583 220.5 3591.2 222.6C3599.3 224.6 3606.1 225.8 3615.7 225.8C3625.2 225.8 3637.4 223.9 3648.3 222.6C3659.1 221.2 3670 218.9 3680.9 217.7C3691.7 216.4 3702.6 216.2 3713.5 215.2C3724.3 214.3 3735.2 214.1 3746.1 212C3757 209.8 3767.8 207.1 3778.7 202.2C3789.6 197.3 3802.6 189.1 3811.3 182.6C3820 176.1 3826.5 169 3830.9 163C3835.2 157.1 3836.8 152.2 3837.4 146.7C3837.9 141.3 3836.3 135.9 3834.1 130.4C3832 125 3827.1 119 3824.3 114.1C3821.6 109.2 3818.8 105.4 3817.8 101.1C3816.9 96.7 3819.2 92.7 3818.6 88C3818.1 83.4 3816.6 78 3814.6 73.4C3812.5 68.8 3808.9 63.7 3806.4 60.3C3804 56.9 3801.8 55.4 3799.9 53C3798 50.5 3795.8 46.9 3795 45.7L3795 0L3360 0Z" fill="#d8b395" stroke="none"/>
<path d="M3360 19.9C3360.8 22.8 3362.5 29 3365 37.3C3367.5 45.5 3369.9 58.4 3374.9 69.6C3379.9 80.7 3384.8 91.9 3394.8 104.3C3404.7 116.8 3426.3 135.9 3434.5 144.1C3442.8 152.3 3437.4 149 3444.5 153.3C3451.5 157.5 3466.2 164.4 3477.1 169.6C3487.9 174.7 3498.8 179.1 3509.7 184.2C3520.5 189.4 3532.8 195.7 3542.3 200.5C3551.8 205.4 3558.6 209.9 3566.7 213.6C3574.9 217.3 3583 220.5 3591.2 222.6C3599.3 224.6 3606.1 225.8 3615.7 225.8C3625.2 225.8 3637.4 223.9 3648.3 222.6C3659.1 221.2 3670 218.9 3680.9 217.7C3691.7 216.4 3702.6 216.2 3713.5 215.2C3724.3 214.3 3735.2 214.1 3746.1 212C3757 209.8 3767.8 207.1 3778.7 202.2C3789.6 197.3 3802.6 189.1 3811.3 182.6C3820 176.1 3826.5 169 3830.9 163C3835.2 157.1 3836.8 152.2 3837.4 146.7C3837.9 141.3 3836.3 135.9 3834.1 130.4C3832 125 3827.1 119 3824.3 114.1C3821.6 109.2 3818.8 105.4 3817.8 101.1C3816.9 96.7 3819.2 92.7 3818.6 88C3818.1 83.4 3816.6 78 3814.6 73.4C3812.5 68.8 3808.9 63.7 3806.4 60.3C3804 56.9 3801.8 55.4 3799.9 53C3798 50.5 3795.8 46.9 3795 45.7" fill="none"/>
<path d="M3602.6 91.3C3603.2 88.6 3604 86.7 3607.5 84.8C3611 82.9 3617 81.5 3623.8 79.9C3630.6 78.3 3640.9 76.9 3648.3 75C3655.6 73.1 3661 70.1 3667.8 68.5C3674.6 66.8 3682 65.2 3689 65.2C3696.1 65.2 3703.4 66.3 3710.2 68.5C3717 70.7 3724.1 74.2 3729.8 78.3C3735.5 82.3 3740.7 87.5 3744.5 92.9C3748.3 98.4 3751.1 105.7 3752.6 110.9C3754.1 116 3754.5 119.8 3753.4 123.9C3752.3 128 3750 132.1 3746.1 135.3C3742.1 138.6 3736.6 141.3 3729.8 143.5C3723 145.7 3712.9 147.4 3705.3 148.4C3697.7 149.3 3690.4 149.7 3684.1 149.2C3677.9 148.6 3673.8 147.4 3667.8 145.1C3661.8 142.8 3654.8 138.3 3648.3 135.3C3641.7 132.3 3634.7 130.7 3628.7 127.2C3622.7 123.6 3616.5 118.5 3612.4 114.1C3608.3 109.8 3605.9 104.9 3604.2 101.1C3602.6 97.3 3602.1 94 3602.6 91.3Z" fill="#cea284"/>
<path d="M2474.8 693.2C2474.8 683.9 2475.8 675.6 2478.8 668.3C2481.8 661.1 2486.8 654.2 2492.8 649.7C2498.7 645.1 2505.2 642.5 2514.5 641C2523.9 639.4 2535.2 639.7 2548.7 640.4C2562.2 641 2579.8 643.2 2595.3 645C2610.8 646.8 2626.3 648.9 2641.9 651.2C2657.4 653.6 2672.9 656.7 2688.4 659C2704 661.3 2719.5 663.9 2735 665.2C2750.6 666.5 2766.1 666.1 2781.6 666.8C2797.1 667.4 2812.7 667.9 2828.2 668.9C2843.7 670 2859.3 671.3 2874.8 673C2890.3 674.7 2905.8 676.6 2921.4 679.2C2936.9 681.8 2952.4 684.6 2968 688.5C2983.5 692.4 2999 696.8 3014.5 702.5C3030.1 708.2 3047.1 715.4 3061.1 722.7C3075.1 729.9 3086.5 736.9 3098.4 746C3110.3 755 3122.2 766.1 3132.5 777C3142.9 787.9 3152.7 799.8 3160.5 811.2C3168.3 822.6 3174.2 834.5 3179.1 845.3C3184 856.2 3187.9 867.6 3190 876.4C3192.1 885.2 3192.6 892.4 3191.6 898.1C3190.5 903.8 3186.9 906.4 3183.8 910.6C3180.7 914.7 3175 917.8 3172.9 923C3170.8 928.2 3171.1 934.9 3171.4 941.6C3171.6 948.3 3174.7 957.1 3174.5 963.4C3174.2 969.6 3174.2 974.5 3169.8 978.9C3165.4 983.3 3158.4 986.1 3148.1 989.8C3137.7 993.4 3122.2 997.7 3107.7 1000.6C3093.2 1003.6 3076.6 1006 3061.1 1007.5C3045.6 1008.9 3030.1 1009.7 3014.5 1009.3C2999 1009 2983.5 1007.8 2968 1005.3C2952.4 1002.8 2936.9 998.3 2921.4 994.4C2905.8 990.5 2890.3 985.9 2874.8 982C2859.3 978.1 2843.7 974.5 2828.2 971.1C2812.7 967.8 2797.1 965.4 2781.6 961.8C2766.1 958.2 2748 953.8 2735 949.4C2722.1 945 2712.8 940.3 2704 935.4C2695.2 930.5 2690 926.1 2682.2 919.9C2674.5 913.7 2666.7 905.4 2657.4 898.1C2648.1 890.9 2637.7 884.2 2626.3 876.4C2614.9 868.6 2601.5 860.4 2589.1 851.6C2576.6 842.8 2563.7 833.4 2551.8 823.6C2539.9 813.8 2527.5 803.4 2517.6 792.5C2507.8 781.7 2499.3 769.8 2492.8 758.4C2486.3 747 2481.8 735.1 2478.8 724.2C2475.8 713.4 2474.8 702.5 2474.8 693.2Z" fill="#e8c8a9"/>
<path d="M2661.1 724.2C2661.1 717.2 2662.2 711.5 2665.2 707.1C2668.2 702.7 2672.7 699.6 2679.1 697.8C2685.6 696 2694.7 695.9 2704 696.3C2713.3 696.6 2724.7 698.7 2735 700C2745.4 701.3 2755.7 702.6 2766.1 704C2776.4 705.5 2786.8 707.5 2797.1 708.7C2807.5 709.9 2815.3 710.4 2828.2 711.2C2841.1 712 2859.3 712 2874.8 713.4C2890.3 714.8 2905.8 717 2921.4 719.6C2936.9 722.2 2955 725.8 2968 728.9C2980.9 732 2988.7 734.3 2999 738.2C3009.4 742.1 3020.7 746.7 3030.1 752.2C3039.4 757.6 3047.1 763.6 3054.9 770.8C3062.7 778.1 3070.4 786.9 3076.6 795.7C3082.9 804.5 3088.6 815.3 3092.2 823.6C3095.8 831.9 3098.1 839.6 3098.4 845.3C3098.6 851 3095.8 854.1 3093.7 857.8C3091.7 861.4 3087.2 862.9 3086 867.1C3084.8 871.2 3086.6 877.4 3086.6 882.6C3086.6 887.8 3088.1 894.3 3086 898.1C3083.8 902 3080.3 903.3 3073.5 905.9C3066.8 908.5 3055.4 911.6 3045.6 913.7C3035.8 915.7 3024.9 917.5 3014.5 918.3C3004.2 919.1 2996.4 919.6 2983.5 918.3C2970.5 917 2952.4 913.7 2936.9 910.6C2921.4 907.5 2905.8 902.8 2890.3 899.7C2874.8 896.6 2856.7 894.8 2843.7 891.9C2830.8 889.1 2821.5 886.2 2812.7 882.6C2803.9 879 2797.7 875.4 2790.9 870.2C2784.2 865 2779 857.2 2772.3 851.6C2765.6 845.9 2759.4 841.7 2750.6 836C2741.8 830.3 2728.8 823.6 2719.5 817.4C2710.2 811.2 2701.9 806 2694.7 798.8C2687.4 791.5 2680.9 782.2 2676 773.9C2671.1 765.6 2667.6 757.3 2665.2 749.1C2662.7 740.8 2661.1 731.2 2661.1 724.2Z" fill="#d8b395"/>
<path d="M2949.3 801.9C2949.1 798.9 2950.6 797 2952.4 796.3C2954.2 795.5 2957.6 796.3 2960.2 797.2C2962.8 798.1 2964.1 800.3 2968 801.9C2971.8 803.4 2978.8 805.2 2983.5 806.5C2988.1 807.8 2993.1 808.4 2995.9 809.6C2998.7 810.8 3000.8 811.9 3000.6 813.7C3000.3 815.5 2997.5 818.3 2994.3 820.5C2991.2 822.7 2985.8 825.4 2981.9 826.7C2978 828 2974.4 828.8 2971.1 828.3C2967.7 827.7 2964.6 825.9 2961.7 823.6C2958.9 821.3 2956 817.9 2954 814.3C2951.9 810.7 2949.6 804.9 2949.3 801.9Z" fill="#cea284"/>
<path d="M1026.8 912.4C1026.8 906.9 1027 898.4 1030.3 891.4C1033.6 884.4 1039.2 877.8 1046.6 870.4C1054 863.1 1064.8 853.7 1074.5 847.1C1084.2 840.5 1093.9 835.1 1104.8 830.8C1115.7 826.6 1128.1 823.2 1139.8 821.5C1151.4 819.9 1163 820.5 1174.7 821.1C1186.3 821.6 1198 823.4 1209.6 825C1221.3 826.6 1232.9 829.4 1244.6 830.8C1256.2 832.3 1267.9 833.4 1279.5 833.6C1291.1 833.8 1302.8 833.2 1314.4 832C1326.1 830.8 1337.7 829.1 1349.4 826.2C1361 823.3 1372.7 820 1384.3 814.5C1396 809.1 1407.6 799.8 1419.3 793.6C1430.9 787.4 1442.5 781.3 1454.2 777.3C1465.8 773.2 1478.3 770.6 1489.1 769.1C1500 767.6 1510.1 766.7 1519.4 768.4C1528.7 770.2 1538 774.2 1545 779.6C1552 785 1557.5 792.4 1561.3 800.6C1565.2 808.7 1567.4 818.4 1568.3 828.5C1569.3 838.6 1567.9 849.5 1567.2 861.1C1566.4 872.8 1565.8 886 1563.7 898.4C1561.5 910.8 1559 924.4 1554.3 935.7C1549.7 946.9 1544.6 957 1535.7 965.9C1526.8 974.9 1514.4 983 1500.8 989.2C1487.2 995.4 1469.7 999.7 1454.2 1003.2C1438.7 1006.7 1423.1 1009 1407.6 1010.2C1392.1 1011.4 1376.6 1011.4 1361 1010.2C1345.5 1009 1330 1006.3 1314.4 1003.2C1298.9 1000.1 1283.4 996.2 1267.9 991.6C1252.3 986.9 1236.8 979.9 1221.3 975.2C1205.7 970.6 1190.2 966.7 1174.7 963.6C1159.2 960.5 1143.6 959.3 1128.1 956.6C1112.6 953.9 1095.1 950.8 1081.5 947.3C1067.9 943.8 1055.1 939.5 1046.6 935.7C1038 931.8 1033.6 927.9 1030.3 924C1027 920.1 1026.8 917.8 1026.8 912.4Z" fill="#e8c8a9"/>
<path d="M1368 887.9C1368.4 885 1371.9 879.8 1377.3 877.4C1382.8 875.1 1391.7 875.1 1400.6 873.9C1409.5 872.8 1420.8 872.2 1430.9 870.4C1441 868.7 1452.3 865.4 1461.2 863.4C1470.1 861.5 1478.1 859.4 1484.5 858.8C1490.9 858.2 1496.7 858.4 1499.6 860C1502.5 861.5 1502.9 864 1501.9 868.1C1501 872.2 1497.9 879 1493.8 884.4C1489.7 889.8 1482.9 896.4 1477.5 900.7C1472 905 1467 907.9 1461.2 910C1455.4 912.2 1449.5 913.5 1442.5 913.5C1435.6 913.5 1427.4 911.8 1419.3 910C1411.1 908.3 1401 905.6 1393.6 903C1386.3 900.5 1379.3 897.4 1375 894.9C1370.7 892.4 1367.6 890.8 1368 887.9Z" fill="#d8b395"/>
<path d="M278.3 1147.3C281.6 1145.3 291.5 1138.9 298.1 1134.9C304.8 1130.9 308.1 1129.3 318 1123.5C328 1117.7 344.5 1108.6 357.8 1100.1C371 1091.7 382.6 1082.7 397.5 1072.8C412.4 1062.9 430.6 1048.6 447.2 1040.5C463.8 1032.4 483.6 1024.5 496.9 1024.1C510.1 1023.7 518.4 1034.5 526.7 1038C535 1041.6 540.4 1045.5 546.6 1045.5C552.8 1045.5 560.2 1043.4 564 1038C567.7 1032.6 571 1023.1 568.9 1013.2C566.9 1003.2 555.7 990 551.6 978.4C547.4 966.8 547 953.5 544.1 943.6C541.2 933.7 540.4 924.3 534.2 918.8C528 913.2 517.2 911.6 506.8 910.3C496.5 909.1 486.1 909.1 472 911.3C458 913.5 438.1 918.8 422.4 923.7C406.6 928.7 388 936.6 377.6 941.1C367.3 945.7 366 948.2 360.2 951.1C354.5 954 349.1 956 342.9 958.5C336.6 961 326.3 964.7 323 966L100 960L100 1150Z" fill="#e8c8a9" stroke="none"/>
<path d="M278.3 1147.3C281.6 1145.3 291.5 1138.9 298.1 1134.9C304.8 1130.9 308.1 1129.3 318 1123.5C328 1117.7 344.5 1108.6 357.8 1100.1C371 1091.7 382.6 1082.7 397.5 1072.8C412.4 1062.9 430.6 1048.6 447.2 1040.5C463.8 1032.4 483.6 1024.5 496.9 1024.1C510.1 1023.7 518.4 1034.5 526.7 1038C535 1041.6 540.4 1045.5 546.6 1045.5C552.8 1045.5 560.2 1043.4 564 1038C567.7 1032.6 571 1023.1 568.9 1013.2C566.9 1003.2 555.7 990 551.6 978.4C547.4 966.8 547 953.5 544.1 943.6C541.2 933.7 540.4 924.3 534.2 918.8C528 913.2 517.2 911.6 506.8 910.3C496.5 909.1 486.1 909.1 472 911.3C458 913.5 438.1 918.8 422.4 923.7C406.6 928.7 388 936.6 377.6 941.1C367.3 945.7 366 948.2 360.2 951.1C354.5 954 349.1 956 342.9 958.5C336.6 961 326.3 964.7 323 966" fill="none"/>
<path d="M204.8 1455.2C207.1 1454.6 213.8 1453.2 218.8 1451.7C223.7 1450.3 219.4 1450.6 234.5 1446.5C249.7 1442.4 285.5 1434.3 309.6 1427.3C333.8 1420.3 359.1 1411.8 379.5 1404.6C399.9 1397.3 417.4 1391.2 431.9 1383.6C446.5 1376 455.2 1369 466.8 1359.1C478.5 1349.2 488.4 1337 501.8 1324.2C515.2 1311.4 531.5 1295.1 547.2 1282.3C562.9 1269.5 579.8 1257.2 596.1 1247.3C612.4 1237.4 629.9 1229 645 1222.9C660.2 1216.8 673 1213.3 687 1210.7C700.9 1208 716.1 1206.3 728.9 1207.2C741.7 1208 753.3 1211.5 763.8 1215.9C774.3 1220.3 783 1225.8 791.8 1233.4C800.5 1240.9 809.2 1251.4 816.2 1261.3C823.2 1271.2 828.5 1282.3 833.7 1292.8C838.9 1303.2 843.9 1313.1 847.7 1324.2C851.5 1335.3 855.8 1348.1 856.4 1359.1C857 1370.2 854.9 1381.9 851.2 1390.6C847.4 1399.3 839.5 1404 833.7 1411.6C827.9 1419.1 820.9 1426.7 816.2 1436C811.6 1445.3 808.7 1457.6 805.7 1467.5C802.8 1477.4 802.3 1486.1 798.8 1495.4C795.3 1504.7 790.6 1514.6 784.8 1523.4C779 1532.1 771.4 1540.2 763.8 1547.8C756.2 1555.4 746.4 1560.6 739.4 1568.8C732.4 1576.9 727.1 1586.2 721.9 1596.7C716.7 1607.2 711.7 1620.1 707.9 1631.7C704.1 1643.2 701.5 1654.5 699.2 1665.9C696.9 1677.3 696 1688.8 693.9 1700.4C691.9 1711.9 689.9 1719.6 687 1735.3C684 1751 687 1767.3 676.5 1794.7C666 1822.1 661.9 1870.4 624.1 1899.5C586.2 1928.6 521.3 1953.4 449.4 1969.4C377.5 1985.4 250.8 1989.8 192.6 1995.6C134.4 2001.4 122.4 2002.3 100 2004.3C77.6 2006.4 65.1 2007.2 58.1 2007.8L-100 2000L-100 1450Z" fill="#e8c8a9" stroke="none"/>
<path d="M204.8 1455.2C207.1 1454.6 213.8 1453.2 218.8 1451.7C223.7 1450.3 219.4 1450.6 234.5 1446.5C249.7 1442.4 285.5 1434.3 309.6 1427.3C333.8 1420.3 359.1 1411.8 379.5 1404.6C399.9 1397.3 417.4 1391.2 431.9 1383.6C446.5 1376 455.2 1369 466.8 1359.1C478.5 1349.2 488.4 1337 501.8 1324.2C515.2 1311.4 531.5 1295.1 547.2 1282.3C562.9 1269.5 579.8 1257.2 596.1 1247.3C612.4 1237.4 629.9 1229 645 1222.9C660.2 1216.8 673 1213.3 687 1210.7C700.9 1208 716.1 1206.3 728.9 1207.2C741.7 1208 753.3 1211.5 763.8 1215.9C774.3 1220.3 783 1225.8 791.8 1233.4C800.5 1240.9 809.2 1251.4 816.2 1261.3C823.2 1271.2 828.5 1282.3 833.7 1292.8C838.9 1303.2 843.9 1313.1 847.7 1324.2C851.5 1335.3 855.8 1348.1 856.4 1359.1C857 1370.2 854.9 1381.9 851.2 1390.6C847.4 1399.3 839.5 1404 833.7 1411.6C827.9 1419.1 820.9 1426.7 816.2 1436C811.6 1445.3 808.7 1457.6 805.7 1467.5C802.8 1477.4 802.3 1486.1 798.8 1495.4C795.3 1504.7 790.6 1514.6 784.8 1523.4C779 1532.1 771.4 1540.2 763.8 1547.8C756.2 1555.4 746.4 1560.6 739.4 1568.8C732.4 1576.9 727.1 1586.2 721.9 1596.7C716.7 1607.2 711.7 1620.1 707.9 1631.7C704.1 1643.2 701.5 1654.5 699.2 1665.9C696.9 1677.3 696 1688.8 693.9 1700.4C691.9 1711.9 689.9 1719.6 687 1735.3C684 1751 687 1767.3 676.5 1794.7C666 1822.1 661.9 1870.4 624.1 1899.5C586.2 1928.6 521.3 1953.4 449.4 1969.4C377.5 1985.4 250.8 1989.8 192.6 1995.6C134.4 2001.4 122.4 2002.3 100 2004.3C77.6 2006.4 65.1 2007.2 58.1 2007.8" fill="none"/>
<path d="M190.8 1513.6C193.2 1512.9 200.4 1511 204.8 1509.4C209.2 1507.8 205.4 1507.9 217 1504.1C228.7 1500.4 253.4 1492.8 274.7 1486.7C295.9 1480.6 322.4 1474.1 344.6 1467.5C366.7 1460.8 390 1453.5 407.5 1446.5C424.9 1439.5 437.7 1433.1 449.4 1425.5C461 1418 467.4 1410.4 477.3 1401.1C487.2 1391.8 497.1 1380.1 508.8 1369.6C520.4 1359.1 533.8 1346.9 547.2 1338.2C560.6 1329.4 576.3 1322.8 589.1 1317.2C601.9 1311.7 612.4 1307.6 624.1 1305C635.7 1302.4 648.5 1300.6 659 1301.5C669.5 1302.4 678.8 1305.9 687 1310.2C695.1 1314.6 701.5 1320.1 707.9 1327.7C714.3 1335.3 719.6 1345.2 725.4 1355.7C731.2 1366.1 738.2 1379.5 742.9 1390.6C747.5 1401.7 752.8 1413.3 753.3 1422C753.9 1430.8 750.4 1436 746.4 1443C742.3 1450 733.5 1457 728.9 1464C724.2 1470.9 721.9 1477.4 718.4 1484.9C714.9 1492.5 712.6 1501.8 707.9 1509.4C703.3 1516.9 696.9 1523.4 690.5 1530.3C684 1537.3 675.3 1543.2 669.5 1551.3C663.7 1559.5 659.6 1567.6 655.5 1579.3C651.4 1590.9 648.2 1606.7 645 1621.2C641.8 1635.6 639.2 1653.3 636.3 1665.9C633.4 1678.5 631.3 1683.6 627.6 1696.9C623.8 1710.2 620 1729.5 613.6 1745.8C607.2 1762.1 616.5 1774.9 589.1 1794.7C561.8 1814.5 511.1 1849.4 449.4 1864.6C387.7 1879.7 274.1 1881.2 218.8 1885.5C163.5 1889.9 143.1 1889.5 117.5 1890.8C91.8 1892 73.8 1892.8 65.1 1893.2L-100 1900L-100 1500Z" fill="#d8b395" stroke="none"/>
<path d="M190.8 1513.6C193.2 1512.9 200.4 1511 204.8 1509.4C209.2 1507.8 205.4 1507.9 217 1504.1C228.7 1500.4 253.4 1492.8 274.7 1486.7C295.9 1480.6 322.4 1474.1 344.6 1467.5C366.7 1460.8 390 1453.5 407.5 1446.5C424.9 1439.5 437.7 1433.1 449.4 1425.5C461 1418 467.4 1410.4 477.3 1401.1C487.2 1391.8 497.1 1380.1 508.8 1369.6C520.4 1359.1 533.8 1346.9 547.2 1338.2C560.6 1329.4 576.3 1322.8 589.1 1317.2C601.9 1311.7 612.4 1307.6 624.1 1305C635.7 1302.4 648.5 1300.6 659 1301.5C669.5 1302.4 678.8 1305.9 687 1310.2C695.1 1314.6 701.5 1320.1 707.9 1327.7C714.3 1335.3 719.6 1345.2 725.4 1355.7C731.2 1366.1 738.2 1379.5 742.9 1390.6C747.5 1401.7 752.8 1413.3 753.3 1422C753.9 1430.8 750.4 1436 746.4 1443C742.3 1450 733.5 1457 728.9 1464C724.2 1470.9 721.9 1477.4 718.4 1484.9C714.9 1492.5 712.6 1501.8 707.9 1509.4C703.3 1516.9 696.9 1523.4 690.5 1530.3C684 1537.3 675.3 1543.2 669.5 1551.3C663.7 1559.5 659.6 1567.6 655.5 1579.3C651.4 1590.9 648.2 1606.7 645 1621.2C641.8 1635.6 639.2 1653.3 636.3 1665.9C633.4 1678.5 631.3 1683.6 627.6 1696.9C623.8 1710.2 620 1729.5 613.6 1745.8C607.2 1762.1 616.5 1774.9 589.1 1794.7C561.8 1814.5 511.1 1849.4 449.4 1864.6C387.7 1879.7 274.1 1881.2 218.8 1885.5C163.5 1889.9 143.1 1889.5 117.5 1890.8C91.8 1892 73.8 1892.8 65.1 1893.2" fill="none"/>
<path d="M267.7 1642.1C279.3 1635.4 293.9 1625.3 309.6 1617.7C325.3 1610.1 344.6 1603.1 362 1596.7C379.5 1590.3 400.5 1584.2 414.4 1579.3C428.4 1574.3 437.7 1571.7 445.9 1567C454 1562.4 456.4 1556.8 463.4 1551.3C470.3 1545.8 479.7 1538.8 487.8 1533.8C496 1528.9 504.7 1524.2 512.3 1521.6C519.8 1519 527.4 1517.5 533.2 1518.1C539.1 1518.7 544 1520.2 547.2 1525.1C550.4 1530.1 552.4 1538.8 552.4 1547.8C552.4 1556.8 550.4 1568.8 547.2 1579.3C544 1589.7 537.3 1600.8 533.2 1610.7C529.2 1620.6 526 1631.3 522.7 1638.6C519.5 1646 516.9 1647 514 1654.9C511.1 1662.9 509.1 1677.1 505.3 1686.4C501.5 1695.7 497.1 1704.4 491.3 1710.8C485.5 1717.2 478.5 1721.6 470.3 1724.8C462.2 1728 454.6 1729.5 442.4 1730.1C430.2 1730.6 413.3 1729.2 397 1728.3C380.7 1727.4 361.5 1726.3 344.6 1724.8C327.7 1723.4 309.6 1721.9 295.7 1719.6C281.7 1717.2 270 1714.6 260.7 1710.8C251.4 1707.1 244.1 1702.1 239.8 1696.9C235.4 1691.6 234.5 1685.8 234.5 1679.4C234.5 1673 234.2 1664.6 239.8 1658.4C245.3 1652.2 256.1 1648.9 267.7 1642.1Z" fill="#cea284"/>
<path d="M989.9 1300.1C988.9 1290.3 991.7 1282.7 994.2 1274.5C996.6 1266.2 1000.7 1257.7 1004.4 1250.6C1008.1 1243.4 1012.4 1236.9 1016.4 1231.8C1020.4 1226.6 1025.2 1224.7 1028.3 1219.8C1031.5 1215 1032.9 1209 1035.2 1202.7C1037.4 1196.5 1039.1 1189.1 1042 1182.2C1044.8 1175.4 1047.7 1168.3 1052.2 1161.7C1056.8 1155.2 1062.5 1148.6 1069.3 1143C1076.1 1137.3 1085.3 1131.6 1093.2 1127.6C1101.2 1123.6 1109.2 1120.9 1117.1 1119C1125.1 1117.2 1133.1 1116.3 1141.1 1116.5C1149 1116.6 1156.7 1117.9 1165 1119.9C1173.2 1121.9 1182 1125.9 1190.6 1128.4C1199.1 1131 1207.7 1133.6 1216.2 1135.3C1224.8 1137 1233.3 1138.4 1241.8 1138.7C1250.4 1139 1260.3 1137.6 1267.5 1137C1274.6 1136.3 1278.8 1134.6 1284.5 1134.8C1290.2 1134.9 1295.4 1135.3 1301.6 1137.8C1307.9 1140.3 1315.8 1144.4 1322.1 1149.8C1328.4 1155.2 1334.1 1162.6 1339.2 1170.3C1344.3 1178 1349.3 1186.8 1352.9 1195.9C1356.4 1205 1359.7 1216.4 1360.5 1224.9C1361.4 1233.5 1360.4 1238.9 1358 1247.1C1355.6 1255.4 1351.1 1265.1 1346 1274.5C1340.9 1283.9 1333.8 1294.7 1327.2 1303.5C1320.7 1312.3 1310.4 1322 1306.7 1327.4C1303 1332.8 1309.5 1331.1 1305 1336C1300.5 1340.9 1294.7 1352 1280 1357C1265.3 1362 1239.8 1365.3 1217 1366C1194.2 1366.7 1163.7 1363.8 1143 1361C1122.3 1358.2 1105.5 1350.3 1093 1349C1080.5 1347.7 1078 1351.8 1068 1353C1058 1354.2 1044.3 1359.3 1033 1356C1021.7 1352.7 1007.2 1342.3 1000 1333C992.8 1323.7 990.9 1309.8 989.9 1300.1Z" fill="#e8c8a9"/>
<path d="M1530.3 1418C1530.3 1407.9 1531.3 1395.1 1536.3 1385.7C1541.4 1376.3 1549.8 1368.6 1560.6 1361.5C1571.3 1354.4 1584.1 1348.7 1600.9 1343.3C1617.8 1337.9 1641.3 1334.9 1661.5 1329.2C1681.7 1323.5 1703.2 1316.4 1722 1309C1740.9 1301.6 1757.7 1293.2 1774.5 1284.8C1791.4 1276.4 1808.2 1265.9 1823 1258.5C1837.8 1251.1 1851.2 1243.9 1863.4 1240.4C1875.5 1236.9 1884.9 1236.9 1895.7 1237.5C1906.4 1238.2 1916.5 1239.2 1928 1244.4C1939.4 1249.6 1951.5 1259.5 1964.3 1268.6C1977.1 1277.7 1991.2 1288.8 2004.7 1298.9C2018.1 1309 2031.6 1319.4 2045 1329.2C2058.5 1338.9 2071.9 1348.7 2085.4 1357.5C2098.9 1366.2 2112.3 1374.9 2125.8 1381.7C2139.2 1388.4 2149.3 1393.8 2166.1 1397.8C2183 1401.9 2206.5 1402.2 2226.7 1405.9C2246.9 1409.6 2267.1 1413.3 2287.3 1420C2307.5 1426.8 2329 1435.8 2347.8 1446.3C2366.7 1456.7 2383.5 1469.2 2400.3 1482.6C2417.1 1496.1 2435.3 1512.9 2448.8 1527C2462.2 1541.1 2473.3 1553.9 2481.1 1567.4C2488.8 1580.8 2493.5 1594.3 2495.2 1607.8C2496.9 1621.2 2495.5 1635.4 2491.1 1648.1C2486.8 1660.9 2479.4 1673.7 2468.9 1684.5C2458.5 1695.2 2445.4 1705 2428.6 1712.7C2411.7 1720.5 2388.2 1726.5 2368 1730.9C2347.8 1735.3 2331 1737.3 2307.5 1739C2283.9 1740.7 2250.3 1741 2226.7 1741C2203.2 1741 2186.3 1741 2166.1 1739C2146 1737 2121.1 1733.3 2105.6 1728.9C2090.1 1724.5 2081.4 1720.1 2073.3 1712.7C2065.2 1705.3 2061.9 1694.6 2057.1 1684.5C2052.4 1674.4 2049.1 1663.6 2045 1652.2C2041 1640.7 2036.6 1625.9 2032.9 1615.8C2029.2 1605.7 2028.9 1599 2022.8 1591.6C2016.8 1584.2 2006.3 1576.8 1996.6 1571.4C1986.8 1566 1973.7 1561.3 1964.3 1559.3C1954.9 1557.3 1947.5 1557.3 1940.1 1559.3C1932.7 1561.3 1925.3 1564 1919.9 1571.4C1914.5 1578.8 1911.1 1593 1907.8 1603.7C1904.4 1614.5 1903.1 1627.3 1899.7 1636C1896.3 1644.8 1893.6 1651.2 1887.6 1656.2C1881.5 1661.3 1874.1 1665.6 1863.4 1666.3C1852.6 1667 1835.1 1661.6 1823 1660.2C1810.9 1658.9 1800.1 1656.2 1790.7 1658.2C1781.3 1660.2 1774.5 1667.3 1766.5 1672.4C1758.4 1677.4 1751.7 1683.8 1742.2 1688.5C1732.8 1693.2 1720.7 1697.8 1709.9 1700.6C1699.2 1703.4 1685.7 1705.5 1677.6 1705.5C1669.6 1705.5 1666.2 1702.6 1661.5 1700.6C1656.8 1698.6 1656.1 1694.4 1649.4 1693.4C1642.7 1692.3 1629.9 1694.4 1621.1 1694.6C1612.4 1694.8 1602.6 1696.9 1596.9 1694.6C1591.2 1692.2 1589.8 1687.5 1586.8 1680.4C1583.8 1673.4 1581.4 1662.3 1578.7 1652.2C1576 1642.1 1571.7 1630.6 1570.7 1619.9C1569.6 1609.1 1570.7 1597 1572.7 1587.6C1574.7 1578.2 1580.4 1572.8 1582.8 1563.4C1585.1 1553.9 1588.1 1541.1 1586.8 1531.1C1585.5 1521 1580.4 1512.2 1574.7 1502.8C1569 1493.4 1558.9 1484 1552.5 1474.5C1546.1 1465.1 1540 1455.7 1536.3 1446.3C1532.6 1436.9 1530.3 1428.1 1530.3 1418Z" fill="#e8c8a9"/>
<path d="M1617.1 1450.3C1618.1 1441.6 1621.8 1429.5 1629.2 1418C1636.6 1406.6 1649.4 1391.8 1661.5 1381.7C1673.6 1371.6 1688.4 1364.5 1701.9 1357.5C1715.3 1350.4 1731.5 1342 1742.2 1339.3C1753 1336.6 1757 1338.6 1766.5 1341.3C1775.9 1344 1786.6 1351.7 1798.8 1355.4C1810.9 1359.1 1827 1359.1 1839.1 1363.5C1851.2 1367.9 1862 1373.9 1871.4 1381.7C1880.8 1389.4 1888.6 1400.5 1895.7 1409.9C1902.7 1419.4 1910.1 1430.1 1913.8 1438.2C1917.5 1446.3 1919.5 1452 1917.9 1458.4C1916.2 1464.8 1912.8 1469.5 1903.7 1476.6C1894.6 1483.6 1876.8 1491.7 1863.4 1500.8C1849.9 1509.9 1836.4 1520.6 1823 1531.1C1809.5 1541.5 1794.7 1554.6 1782.6 1563.4C1770.5 1572.1 1761.1 1579.2 1750.3 1583.5C1739.5 1587.9 1728.1 1590.6 1718 1589.6C1707.9 1588.6 1699.2 1583.9 1689.8 1577.5C1680.3 1571.1 1669.6 1560.3 1661.5 1551.2C1653.4 1542.2 1646.4 1533.1 1641.3 1523C1636.3 1512.9 1634.2 1499.4 1631.2 1490.7C1628.2 1481.9 1625.5 1477.2 1623.1 1470.5C1620.8 1463.8 1616.1 1459.1 1617.1 1450.3Z" fill="#d8b395"/>
<path d="M1657.5 1454.3C1658.8 1448.3 1663.5 1434.8 1669.6 1426.1C1675.6 1417.3 1684.4 1408.3 1693.8 1401.9C1703.2 1395.5 1716.7 1391.8 1726.1 1387.7C1735.5 1383.7 1742.2 1378 1750.3 1377.6C1758.4 1377.3 1765.1 1383 1774.5 1385.7C1784 1388.4 1797.4 1390.4 1806.8 1393.8C1816.3 1397.2 1824.3 1400.5 1831.1 1405.9C1837.8 1411.3 1842.8 1418.7 1847.2 1426.1C1851.6 1433.5 1856.6 1442.9 1857.3 1450.3C1858 1457.7 1857 1463.8 1851.2 1470.5C1845.5 1477.2 1833.1 1483.3 1823 1490.7C1812.9 1498.1 1800.8 1507.5 1790.7 1514.9C1780.6 1522.3 1771.2 1530 1762.4 1535.1C1753.7 1540.1 1746.3 1544.2 1738.2 1545.2C1730.1 1546.2 1722 1544.8 1714 1541.1C1705.9 1537.4 1696.5 1530 1689.8 1523C1683 1515.9 1677.3 1506.8 1673.6 1498.8C1669.9 1490.7 1669.6 1480.6 1667.5 1474.5C1665.5 1468.5 1663.2 1465.8 1661.5 1462.4C1659.8 1459.1 1656.1 1460.4 1657.5 1454.3Z" fill="#cea284"/>
<path d="M2135.9 1523C2135.9 1513.2 2136.9 1509.5 2141.9 1504.8C2147 1500.1 2155.4 1496.4 2166.1 1494.7C2176.9 1493 2193.1 1493.7 2206.5 1494.7C2220 1495.7 2234.8 1497.7 2246.9 1500.8C2259 1503.8 2269.8 1507.2 2279.2 1512.9C2288.6 1518.6 2296 1527.4 2303.4 1535.1C2310.8 1542.8 2316.9 1552.9 2323.6 1559.3C2330.3 1565.7 2335.7 1569.7 2343.8 1573.4C2351.9 1577.1 2362.6 1577.5 2372 1581.5C2381.5 1585.6 2393.2 1591.3 2400.3 1597.7C2407.4 1604.1 2413.1 1612.8 2414.4 1619.9C2415.8 1626.9 2412.8 1633.3 2408.4 1640.1C2404 1646.8 2398.3 1655.2 2388.2 1660.2C2378.1 1665.3 2364.6 1667.7 2347.8 1670.3C2331 1673 2304.1 1674.4 2287.3 1676.4C2270.4 1678.4 2259 1681.1 2246.9 1682.5C2234.8 1683.8 2224.7 1685.5 2214.6 1684.5C2204.5 1683.5 2193.7 1681.1 2186.3 1676.4C2178.9 1671.7 2174.2 1664.3 2170.2 1656.2C2166.1 1648.1 2165.1 1638 2162.1 1628C2159.1 1617.9 2155.4 1606.4 2152 1595.7C2148.7 1584.9 2144.6 1575.5 2141.9 1563.4C2139.2 1551.2 2135.9 1532.7 2135.9 1523Z" fill="#d8b395"/>
<path d="M1754.5 958.5C1757 951.1 1762.4 946.1 1769.4 943.6C1776.5 941.1 1787.2 941.9 1796.8 943.6C1806.3 945.3 1816.6 949.4 1826.6 953.5C1836.5 957.7 1845.6 963.9 1856.4 968.4C1867.2 973 1877.9 978 1891.2 980.9C1904.4 983.8 1920.2 985.8 1935.9 985.8C1951.6 985.8 1969 981.3 1985.6 980.9C2002.2 980.5 2018.7 981.7 2035.3 983.4C2051.8 985 2070.1 990.4 2085 990.8C2099.9 991.2 2113.1 987.9 2124.7 985.8C2136.3 983.8 2142.1 978.8 2154.5 978.4C2167 978 2183.5 980.5 2199.3 983.4C2215 986.3 2233.2 990.8 2248.9 995.8C2264.7 1000.7 2281.2 1007 2293.7 1013.2C2306.1 1019.4 2316 1025.6 2323.5 1033C2330.9 1040.5 2335.9 1050.4 2338.4 1057.9C2340.9 1065.3 2340.5 1072 2338.4 1077.8C2336.3 1083.6 2329.3 1083.6 2326 1092.7C2322.7 1101.8 2321.4 1120 2318.5 1132.4C2315.6 1144.8 2313.1 1158.9 2308.6 1167.2C2304 1175.5 2297.8 1182.1 2291.2 1182.1C2284.6 1182.1 2275 1173.8 2268.8 1167.2C2262.6 1160.6 2257.6 1149.8 2253.9 1142.4C2250.2 1134.9 2251.4 1127.9 2246.5 1122.5C2241.5 1117.1 2234.5 1112.5 2224.1 1110.1C2213.7 1107.6 2200.9 1106.7 2184.3 1107.6C2167.8 1108.4 2142.9 1113.8 2124.7 1115C2106.5 1116.3 2091.6 1116.3 2075 1115C2058.5 1113.8 2041.9 1111.3 2025.3 1107.6C2008.8 1103.9 1992.2 1097.6 1975.7 1092.7C1959.1 1087.7 1942.5 1081.5 1926 1077.8C1909.4 1074 1892.8 1072.8 1876.3 1070.3C1859.7 1067.8 1841.5 1066.6 1826.6 1062.9C1811.7 1059.1 1796.8 1054.6 1786.8 1048C1776.9 1041.3 1772.3 1033 1767 1023.1C1761.6 1013.2 1756.6 999.1 1754.5 988.3C1752.5 977.6 1752 966 1754.5 958.5Z" fill="#e8c8a9"/>
<path d="M2556 1182.1C2556 1173.8 2556 1165.5 2560 1157.3C2564 1149 2570.8 1139 2579.9 1132.4C2589 1125.8 2601.4 1119.2 2614.7 1117.5C2627.9 1115.9 2643.6 1118.3 2659.4 1122.5C2675.1 1126.6 2694.2 1135.7 2709.1 1142.4C2724 1149 2738.1 1154 2748.8 1162.2C2759.6 1170.5 2766.2 1181.3 2773.7 1192C2781.1 1202.8 2785.3 1216.9 2793.5 1226.8C2801.8 1236.8 2813.4 1244.2 2823.4 1251.7C2833.3 1259.1 2845.3 1263.3 2853.2 1271.6C2861 1279.8 2868.9 1292.3 2870.6 1301.4C2872.2 1310.5 2870.1 1320 2863.1 1326.2C2856.1 1332.4 2843.2 1337.8 2828.3 1338.6C2813.4 1339.5 2793.5 1334.1 2773.7 1331.2C2753.8 1328.3 2728.1 1325.4 2709.1 1321.2C2690 1317.1 2675.9 1313.8 2659.4 1306.3C2642.8 1298.9 2622.9 1287.3 2609.7 1276.5C2596.4 1265.8 2588.2 1253.3 2579.9 1241.7C2571.6 1230.1 2564 1216.9 2560 1207C2556 1197 2556 1190.4 2556 1182.1Z" fill="#e8c8a9"/>
<path d="M3901.6 1117.5C3891.3 1116.7 3860.7 1114.6 3840 1112.5C3819.3 1110.5 3800.2 1107.4 3777.4 1105.1C3754.5 1102.8 3727.7 1099.5 3702.9 1098.6C3678 1097.8 3649 1098.2 3628.3 1100.1C3607.6 1102 3592.3 1105.5 3578.6 1110.1C3565 1114.6 3553.4 1120.4 3546.3 1127.5C3539.3 1134.5 3537.8 1144 3536.4 1152.3C3535 1160.6 3540 1169.7 3537.9 1177.1C3535.8 1184.6 3532.9 1190.4 3524 1197C3515 1203.6 3500 1211.1 3484.2 1216.9C3468.5 1222.7 3447 1228.9 3429.6 1231.8C3412.2 1234.7 3400.6 1235.1 3379.9 1234.3C3359.2 1233.5 3330.2 1227.7 3305.3 1226.8C3280.5 1226 3251.5 1226.8 3230.8 1229.3C3210.1 1231.8 3194.4 1236.4 3181.1 1241.7C3167.9 1247.1 3157.5 1255 3151.3 1261.6C3145.1 1268.2 3143 1274 3143.9 1281.5C3144.7 1288.9 3148.4 1297.2 3156.3 1306.3C3164.1 1315.4 3178.6 1327 3191.1 1336.1C3203.5 1345.3 3217.6 1351.9 3230.8 1361C3244.1 1370.1 3258.1 1381.7 3270.6 1390.8C3283 1399.9 3295.4 1407.5 3305.3 1415.7C3315.3 1423.9 3321.1 1427.7 3330.2 1440C3339.3 1452.3 3352.5 1469 3360 1489.7C3367.5 1510.4 3371.6 1539.4 3374.9 1564.2C3378.2 1589.1 3378.2 1613.9 3379.9 1638.8C3381.5 1663.6 3379 1690.1 3384.8 1713.3C3390.6 1736.5 3400.6 1759.7 3414.7 1777.9C3428.7 1796.1 3446.1 1808.5 3469.3 1822.6C3492.5 1836.7 3527.3 1852 3553.8 1862.4C3580.3 1872.7 3603.5 1880.2 3628.3 1884.7C3653.2 1889.3 3678 1890.5 3702.9 1889.7C3727.7 1888.9 3754.5 1883.5 3777.4 1879.8C3800.2 1876 3819.3 1871.5 3840 1867.3C3860.7 1863.2 3891.3 1857 3901.6 1854.9Z" fill="#e8c8a9" stroke="none"/>
<path d="M3901.6 1117.5C3891.3 1116.7 3860.7 1114.6 3840 1112.5C3819.3 1110.5 3800.2 1107.4 3777.4 1105.1C3754.5 1102.8 3727.7 1099.5 3702.9 1098.6C3678 1097.8 3649 1098.2 3628.3 1100.1C3607.6 1102 3592.3 1105.5 3578.6 1110.1C3565 1114.6 3553.4 1120.4 3546.3 1127.5C3539.3 1134.5 3537.8 1144 3536.4 1152.3C3535 1160.6 3540 1169.7 3537.9 1177.1C3535.8 1184.6 3532.9 1190.4 3524 1197C3515 1203.6 3500 1211.1 3484.2 1216.9C3468.5 1222.7 3447 1228.9 3429.6 1231.8C3412.2 1234.7 3400.6 1235.1 3379.9 1234.3C3359.2 1233.5 3330.2 1227.7 3305.3 1226.8C3280.5 1226 3251.5 1226.8 3230.8 1229.3C3210.1 1231.8 3194.4 1236.4 3181.1 1241.7C3167.9 1247.1 3157.5 1255 3151.3 1261.6C3145.1 1268.2 3143 1274 3143.9 1281.5C3144.7 1288.9 3148.4 1297.2 3156.3 1306.3C3164.1 1315.4 3178.6 1327 3191.1 1336.1C3203.5 1345.3 3217.6 1351.9 3230.8 1361C3244.1 1370.1 3258.1 1381.7 3270.6 1390.8C3283 1399.9 3295.4 1407.5 3305.3 1415.7C3315.3 1423.9 3321.1 1427.7 3330.2 1440C3339.3 1452.3 3352.5 1469 3360 1489.7C3367.5 1510.4 3371.6 1539.4 3374.9 1564.2C3378.2 1589.1 3378.2 1613.9 3379.9 1638.8C3381.5 1663.6 3379 1690.1 3384.8 1713.3C3390.6 1736.5 3400.6 1759.7 3414.7 1777.9C3428.7 1796.1 3446.1 1808.5 3469.3 1822.6C3492.5 1836.7 3527.3 1852 3553.8 1862.4C3580.3 1872.7 3603.5 1880.2 3628.3 1884.7C3653.2 1889.3 3678 1890.5 3702.9 1889.7C3727.7 1888.9 3754.5 1883.5 3777.4 1879.8C3800.2 1876 3819.3 1871.5 3840 1867.3C3860.7 1863.2 3891.3 1857 3901.6 1854.9" fill="none"/>
<path d="M3399.8 1328.7C3400.6 1325 3405.5 1321 3414.7 1318.8C3423.8 1316.5 3443.6 1314.5 3454.4 1315.3C3465.2 1316.1 3471 1318.6 3479.3 1323.7C3487.5 1328.9 3496.2 1337.4 3504.1 1346.1C3512 1354.8 3520.7 1366.8 3526.5 1375.9C3532.3 1385 3537.6 1395.4 3538.9 1400.7C3540.1 1406.1 3537.2 1407.8 3533.9 1408.2C3530.6 1408.6 3528.1 1408.6 3519 1403.2C3509.9 1397.8 3493.3 1384.6 3479.3 1375.9C3465.2 1367.2 3446.1 1356.9 3434.5 1351.1C3422.9 1345.3 3415.5 1344.8 3409.7 1341.1C3403.9 1337.4 3398.9 1332.4 3399.8 1328.7Z" fill="#d8b395"/>
<path d="M3871.8 1410.2C3866.5 1417.6 3848.3 1441.7 3840 1454.9C3831.7 1468.2 3829.2 1475.6 3822.1 1489.7C3815 1503.8 3803.5 1522.8 3797.3 1539.4C3791.1 1555.9 3785.7 1572.5 3784.8 1589.1C3784 1605.6 3786.9 1623.9 3792.3 1638.8C3797.7 1653.7 3809.2 1668.6 3817.1 1678.5C3825.1 1688.4 3830.1 1691.8 3840 1698.4C3849.9 1705 3870.6 1714.9 3876.8 1718.3Z" fill="#d8b395" stroke="none"/>
<path d="M3871.8 1410.2C3866.5 1417.6 3848.3 1441.7 3840 1454.9C3831.7 1468.2 3829.2 1475.6 3822.1 1489.7C3815 1503.8 3803.5 1522.8 3797.3 1539.4C3791.1 1555.9 3785.7 1572.5 3784.8 1589.1C3784 1605.6 3786.9 1623.9 3792.3 1638.8C3797.7 1653.7 3809.2 1668.6 3817.1 1678.5C3825.1 1688.4 3830.1 1691.8 3840 1698.4C3849.9 1705 3870.6 1714.9 3876.8 1718.3" fill="none"/>
<path d="M2699.1 2170.4C2704.1 2165.9 2719 2151.4 2728.9 2143.1C2738.9 2134.8 2747.2 2131.9 2758.8 2120.7C2770.4 2109.6 2786.1 2092.6 2798.5 2076C2810.9 2059.5 2821.7 2038.8 2833.3 2021.4C2844.9 2004 2855.7 1986.6 2868.1 1971.7C2880.5 1956.8 2894.6 1942.7 2907.8 1931.9C2921.1 1921.2 2932.7 1913.3 2947.6 1907.1C2962.5 1900.9 2980.7 1896.3 2997.3 1894.7C3013.8 1893 3030.4 1894.2 3047 1897.1C3063.5 1900 3080.1 1905.4 3096.6 1912C3113.2 1918.7 3129.8 1927 3146.3 1936.9C3162.9 1946.8 3180.3 1959.3 3196 1971.7C3211.8 1984.1 3227.5 1999 3240.7 2011.4C3254 2023.9 3263.9 2035.4 3275.5 2046.2C3287.1 2057 3300.4 2066.9 3310.3 2076C3320.2 2085.1 3331 2096.7 3335.2 2100.9L3340 2200L2700 2200Z" fill="#e8c8a9" stroke="none"/>
<path d="M2699.1 2170.4C2704.1 2165.9 2719 2151.4 2728.9 2143.1C2738.9 2134.8 2747.2 2131.9 2758.8 2120.7C2770.4 2109.6 2786.1 2092.6 2798.5 2076C2810.9 2059.5 2821.7 2038.8 2833.3 2021.4C2844.9 2004 2855.7 1986.6 2868.1 1971.7C2880.5 1956.8 2894.6 1942.7 2907.8 1931.9C2921.1 1921.2 2932.7 1913.3 2947.6 1907.1C2962.5 1900.9 2980.7 1896.3 2997.3 1894.7C3013.8 1893 3030.4 1894.2 3047 1897.1C3063.5 1900 3080.1 1905.4 3096.6 1912C3113.2 1918.7 3129.8 1927 3146.3 1936.9C3162.9 1946.8 3180.3 1959.3 3196 1971.7C3211.8 1984.1 3227.5 1999 3240.7 2011.4C3254 2023.9 3263.9 2035.4 3275.5 2046.2C3287.1 2057 3300.4 2066.9 3310.3 2076C3320.2 2085.1 3331 2096.7 3335.2 2100.9" fill="none"/>
</g>
<path d="M576 136.5L1575.2 28.7L2561 136.7L3527.5 24L3850 58L3850 1987L2816 2155.7L1445.5 1937.4L51 2155Z" fill="url(#vig)"/>
<g fill="none" stroke="#7e6052" stroke-width="5" stroke-linecap="round" stroke-linejoin="round">
<path d="M620.8 599.2C624.3 598.3 635.6 595 641.5 593.8C647.3 592.6 651.9 590.8 655.8 592C659.7 593.2 661.8 595.3 664.8 601C667.8 606.7 670.5 615.9 673.8 626.1C677 636.3 680.3 650.9 684.5 662C688.7 673.1 694.1 682.9 698.9 692.5C703.7 702.1 709.3 711 713.2 719.4C717.1 727.8 721 735.9 722.2 742.7C723.4 749.6 723.4 755.9 720.4 760.7C717.4 765.5 711.4 769.2 704.3 771.4C697.1 773.7 686.3 773.8 677.3 774.1C668.4 774.4 659.4 772.5 650.4 773.2C641.5 774 634 776.2 623.5 778.6C613.1 781 599.6 785.2 587.6 787.6C575.7 790 562.2 792.2 551.8 793C541.3 793.7 532 793.6 524.9 792.1C517.7 790.6 511.8 787.7 508.7 784C505.6 780.3 505.1 775.9 506 769.6C506.9 763.4 509.5 755.3 514.1 746.3C518.7 737.3 526.9 725.4 533.8 715.8C540.7 706.3 548.2 697.3 555.4 688.9C562.5 680.5 573.3 669.5 576.9 665.6"/>
<path d="M620.8 599.2C618.3 600.4 609.9 603.1 605.6 606.4C601.2 609.7 599 613.3 594.8 618.9C590.6 624.6 586.1 633.3 580.5 640.5C574.8 647.6 567.6 655.4 560.7 662C553.9 668.6 545.2 674.6 539.2 679.9C533.2 685.3 527.2 690.1 524.9 694.3C522.5 698.5 523.4 701.8 524.9 705.1C526.3 708.3 532.3 712.5 533.8 714"/>
<path d="M620.8 600.1C619.8 602.6 617.1 610.7 614.6 615.4C612 620 609.5 623.7 605.6 627.9C601.7 632.1 594.8 635.4 591.2 640.5C587.6 645.6 586.1 652.1 584.1 658.4C582 664.7 580.5 671.9 578.7 678.1C576.9 684.4 574.2 693.1 573.3 696.1"/>
<path d="M659.4 581.3C661.2 584 667.5 591.7 670.2 597.4C672.9 603.1 674.4 608.2 675.6 615.4C676.7 622.5 675.6 632.1 677.3 640.5C679.1 648.8 682.4 658.4 686.3 665.6C690.2 672.8 697.1 677.5 700.7 683.5C704.3 689.5 706.7 698.5 707.8 701.5"/>
<path d="M686.3 679.9C687.8 682.9 691.4 691.6 695.3 697.9C699.2 704.2 705.5 711 709.6 717.6C713.8 724.2 718.6 734.1 720.4 737.3"/>
<path d="M677.3 642.3C680.3 639.6 689.3 632.4 695.3 626.1C701.3 619.8 707.2 612.4 713.2 604.6C719.2 596.8 725.8 585.3 731.2 579.5C736.6 573.6 740.7 571.2 745.5 569.6C750.3 568 754.8 568.3 759.9 569.6C765 570.9 771.2 573 776 577.7C780.8 582.3 784.1 590.5 788.6 597.4C793.1 604.3 798.4 612.4 802.9 618.9C807.4 625.5 813.1 631.8 815.5 636.9C817.9 642 819.4 644.7 817.3 649.4C815.2 654.2 808.3 660.8 802.9 665.6C797.6 670.4 791 674.9 785 678.1C779 681.4 773.6 683.8 767.1 685.3C760.5 686.8 753 687.7 745.5 687.1C738 686.5 729.1 684 722.2 681.7C715.3 679.5 708.7 676.3 704.3 673.7C699.8 671 696.8 666.9 695.3 665.6"/>
<path d="M765.3 575.9C765.3 578.9 766.8 587.2 765.3 593.8C763.8 600.4 757.8 611.8 756.3 615.4"/>
<path d="M738.3 575.9 L725.8 601"/>
<path d="M851.4 642.3C846 642 836.4 647.9 829.8 651.2C823.3 654.5 819.4 656.6 811.9 662C804.4 667.4 794 676.3 785 683.5C776 690.7 765 699.4 758.1 705.1C751.2 710.7 745.8 714.3 743.7 717.6C741.6 720.9 742.2 722.1 745.5 724.8C748.8 727.5 759.3 729.3 763.5 733.8C767.6 738.2 767.6 746.3 770.6 751.7C773.6 757.1 776.6 762.8 781.4 766.1C786.2 769.3 792.8 771.4 799.3 771.4C805.9 771.4 812.8 768.7 820.9 766.1C828.9 763.4 838.8 758.3 847.8 755.3C856.8 752.3 867.2 750.2 874.7 748.1C882.2 746 888.5 745.4 892.6 742.7C896.8 740 899.5 736.5 899.8 732C900.1 727.5 897.4 721.5 894.4 715.8C891.4 710.1 885.2 704.5 881.9 697.9C878.6 691.3 878 683.8 874.7 676.3C871.4 668.9 866 658.7 862.1 653C858.3 647.3 856.8 642.6 851.4 642.3Z"/>
<path d="M855 647.6C856.8 651.2 862.7 659.3 865.7 669.2C868.7 679 871.7 700.6 872.9 706.8"/>
<path d="M810.1 688.9C806.5 692.2 795.2 701.2 788.6 708.6C782 716.1 773.6 729.6 770.6 733.8"/>
<path d="M840.6 671.9C838.5 673.5 831.3 678 828 681.7C824.8 685.5 822.1 692.2 820.9 694.3"/>
</g>
<g fill="none" stroke="#7e6052" stroke-width="6" stroke-linecap="round" stroke-linejoin="round">
<path d="M1245.8 577.5L1273.1 581.3L1297.4 579.7L1306.5 592.6L1288.3 634.4L1344.5 620L1409 632.9L1432.6 657.2L1456.8 666.3L1494.8 702.7L1485.7 714.9L1437.1 675.4L1405.2 676.9L1400.7 660.2L1379.4 658.7L1384.7 681.5L1377.9 692.1L1364.2 702.7L1370.3 720.9L1317.2 742.2L1302 765L1314.1 734.6L1346 716.4L1350.6 698.2L1365.7 683L1352.1 663.2L1346 637.4L1264 658.7L1258.7 651.1L1288.3 598L1264 594.9Z"/>
</g>
<g fill="none" stroke="#7e6052" stroke-width="4.3" stroke-linecap="round" stroke-linejoin="round">
<ellipse cx="1246.6" cy="168.8" rx="36.6" ry="17.2" transform="rotate(-2 1246.6 168.8)"/>
<path d="M1210.7 172.3L1214.2 197.1"/>
<path d="M1283.4 172.3L1284.5 191.6"/>
<path d="M1214.2 197.1C1216.5 198.7 1222.4 204.7 1228 206.8C1233.5 208.8 1240.8 209.8 1247.3 209.5C1253.7 209.3 1261.1 207.5 1266.6 205.4C1272.1 203.3 1277.4 199.4 1280.4 197.1C1283.4 194.8 1283.8 192.5 1284.5 191.6"/>
<path d="M1231.4 192.3C1236.5 189.6 1259.4 187.9 1265.2 189.5C1271.1 191.1 1271.7 199.3 1266.6 201.9C1261.5 204.6 1240.7 207 1234.9 205.4C1229 203.8 1226.3 194.9 1231.4 192.3Z"/>
<path d="M1237.6 195.7L1259.7 193.7L1260.4 200.6L1239.7 202.6Z"/>
<path d="M1210 184.7C1208.9 186.3 1204 191.1 1203.1 194.4C1202.2 197.6 1202.4 201 1204.5 204C1206.6 207 1210.2 210.2 1215.5 212.3C1220.8 214.4 1228.9 216.2 1236.2 216.4C1243.6 216.7 1252.6 215.5 1259.7 213.7C1266.8 211.8 1274.2 208.2 1279 205.4C1283.8 202.6 1287.3 199.9 1288.7 197.1C1290.1 194.4 1287.5 190.2 1287.3 188.8"/>
<path d="M1187.2 233C1187.6 230.7 1188.5 223.3 1189.3 219.2C1190.1 215.1 1189.9 212.3 1192.1 208.2C1194.3 204 1200.7 196.7 1202.4 194.4"/>
<path d="M1288.7 197.1C1289.6 198.5 1291.2 201.7 1294.2 205.4C1297.2 209.1 1304.1 214.6 1306.6 219.2C1309.1 223.8 1309 228.4 1309.4 233C1309.7 237.6 1308.8 244.5 1308.7 246.8"/>
<path d="M1291.4 205.4C1292.8 207.7 1297.9 214.6 1299.7 219.2C1301.6 223.8 1302.2 229.3 1302.5 233C1302.7 236.7 1301.3 239.9 1301.1 241.3"/>
<path d="M1192.8 233C1195.9 232.5 1204.8 231.2 1211.4 230.2C1218 229.3 1225.2 228.6 1232.1 227.5C1239 226.3 1246.6 225.2 1252.8 223.3C1259 221.5 1264.1 219.4 1269.4 216.4C1274.6 213.4 1282 207.2 1284.5 205.4"/>
<path d="M1192.8 234.4C1194.3 235.5 1197.5 239.2 1201.7 241.3C1206 243.3 1212.1 245.6 1218.3 246.8C1224.5 247.9 1232.1 248.4 1239 248.2C1245.9 247.9 1252.8 247.3 1259.7 245.4C1266.6 243.6 1274.6 240.4 1280.4 237.1C1286.1 233.9 1291 229.5 1294.2 226.1C1297.4 222.6 1298.8 218 1299.7 216.4"/>
<path d="M1194.8 244C1197.6 245.4 1205.2 250.5 1211.4 252.3C1217.6 254.2 1224.7 254.8 1232.1 255.1C1239.5 255.3 1248 255.1 1255.6 253.7C1263.1 252.3 1271.2 249.6 1277.6 246.8C1284.1 244 1290.1 240.4 1294.2 237.1C1298.3 233.9 1301.1 229.1 1302.5 227.5"/>
<path d="M1239 231.6L1251.4 229.5L1252.8 239.2L1241.1 240.6Z"/>
<path d="M1211.4 236.4C1212.1 236.2 1214.5 234.7 1215.5 235.1C1216.6 235.4 1217.8 237.7 1217.6 238.5C1217.4 239.3 1214.7 239.7 1214.2 239.9"/>
<path d="M1222.4 233.7L1225.2 239.9"/>
<path d="M1187.2 233C1187.8 235.8 1189.4 244.5 1190.7 249.6C1192 254.6 1192.5 259.2 1194.8 263.4C1197.1 267.5 1199.9 271.2 1204.5 274.4C1209.1 277.6 1216.2 280.9 1222.4 282.7C1228.6 284.4 1234.9 285 1241.8 284.7C1248.7 284.5 1260.2 281.9 1263.8 281.3"/>
<path d="M1195.5 253.7L1205.9 257.8L1206.6 270.3L1197.6 264.7Z"/>
<path d="M1251.4 279.9C1251.4 278.8 1250.3 275.1 1251.4 273C1252.6 270.9 1255.3 268.6 1258.3 267.5C1261.3 266.3 1266.1 265.9 1269.4 266.1C1272.6 266.3 1276.5 266.6 1277.6 268.9C1278.8 271.2 1276.5 278.1 1276.3 279.9"/>
<path d="M1267.3 267.5L1265.2 286.8" stroke-width="8"/>
<path d="M1274.9 267.5L1272.1 278.5"/>
<path d="M1258.3 257.8C1261.1 259 1268.9 264.7 1274.9 264.7C1280.9 264.7 1288.7 260.4 1294.2 257.8C1299.7 255.3 1305.7 250.9 1308 249.6"/>
<path d="M1298.3 239.9L1313.5 245.4L1314.9 260.6L1310.8 271.6L1306.6 268.9L1308 250.9"/>
<path d="M1312.8 246.8L1312.1 268.9" stroke-width="7"/>
<path d="M1277.6 274.4C1279.9 273.2 1287.3 269.8 1291.4 267.5C1295.6 265.2 1300.6 261.7 1302.5 260.6"/>
<ellipse cx="1377.7" cy="119.1" rx="27.6" ry="11.7" transform="rotate(0 1377.7 119.1)"/>
<path d="M1350.5 122.6L1353.5 140.5"/>
<path d="M1405 122.6L1403.2 139.2"/>
<path d="M1346.6 139.2C1347.8 140.3 1349.6 144.2 1353.5 146.1C1357.4 147.9 1364.3 149.7 1370.1 150.2C1375.8 150.7 1382.5 150.2 1388 148.8C1393.6 147.4 1400.7 143.1 1403.2 141.9" stroke-width="6.5"/>
<path d="M1368.7 136.4L1390.8 134.3L1391.5 144L1370.1 145.4Z"/>
<path d="M1346.6 132.3C1344.3 133.9 1335.2 138.5 1332.8 141.9C1330.4 145.4 1330.5 149.5 1332.1 153C1333.8 156.4 1337.3 160.3 1342.5 162.6C1347.7 164.9 1356.1 166.3 1363.2 166.8C1370.3 167.2 1378.4 166.8 1385.3 165.4C1392.2 164 1399.8 161 1404.6 158.5C1409.4 155.9 1412.9 153.2 1414.3 150.2C1415.6 147.2 1414.5 143.3 1412.9 140.5C1411.3 137.8 1406 134.8 1404.6 133.6"/>
<path d="M1353.5 151.6L1341.1 164"/>
<path d="M1403.2 150.2L1411.5 157.1"/>
<path d="M1339.7 135C1337.4 137.1 1328.9 144 1325.9 147.4C1322.9 150.9 1322.5 154.3 1321.8 155.7"/>
<path d="M1412.9 137.8C1414 139.4 1418.4 143.8 1419.8 147.4C1421.1 151.1 1421.4 155.7 1421.1 159.9C1420.9 164 1418.9 170.2 1418.4 172.3"/>
<path d="M1335.6 190.2C1337.9 190.9 1343.6 193.4 1349.4 194.4C1355.1 195.3 1364.1 195.7 1370.1 195.7C1376.1 195.7 1382.7 194.6 1385.3 194.4"/>
<path d="M1335.6 172.3C1339 173 1348.2 175.7 1356.3 176.4C1364.3 177.1 1375.8 177.3 1383.9 176.4C1391.9 175.5 1398.8 173.4 1404.6 170.9C1410.3 168.4 1416.1 162.8 1418.4 161.2"/>
<path d="M1321.8 155.7L1310.8 158.5L1308.7 183.3L1313.5 172.3L1325.9 177.8L1327.3 201.3L1334.2 190.2L1335.6 172.3" stroke-width="6"/>
<path d="M1321.8 155.7C1323.2 157.6 1326.6 164 1330.1 166.8C1333.5 169.5 1340.4 171.4 1342.5 172.3"/>
<ellipse cx="1428" cy="191.6" rx="16.6" ry="8.3" transform="rotate(0 1428 191.6)"/>
<ellipse cx="1425.3" cy="197.1" rx="29.7" ry="15.9" transform="rotate(3 1425.3 197.1)"/>
<ellipse cx="1426" cy="197.8" rx="26.9" ry="13.5" transform="rotate(3 1426 197.8)"/>
<path d="M1382.5 191.6C1383.9 189.8 1386 183.3 1390.8 180.6C1395.6 177.8 1404.6 175.7 1411.5 175C1418.4 174.3 1425.3 175 1432.2 176.4C1439.1 177.8 1448.3 180.3 1452.9 183.3C1457.5 186.3 1458.6 192.5 1459.8 194.4"/>
<path d="M1396.3 202.6L1390.8 213.7"/>
<path d="M1458.4 195.7L1457 212.3"/>
<path d="M1389.4 212.3C1391.5 213.4 1395.9 217.8 1401.8 219.2C1407.8 220.6 1417.9 221 1425.3 220.6C1432.6 220.1 1440.7 218.5 1446 216.4C1451.3 214.4 1455.2 209.5 1457 208.2"/>
<path d="M1432.2 204L1434.9 212.3"/>
<path d="M1401.8 216.4L1436.3 220.6L1433.6 233L1399.1 228.9Z"/>
<path d="M1406 219.9L1431.5 223.3L1430.1 229.5L1403.9 226.1Z"/>
<path d="M1385.3 216.4C1384.8 218.3 1381.6 224 1382.5 227.5C1383.4 230.9 1386 234.6 1390.8 237.1C1395.6 239.7 1404.6 242 1411.5 242.7C1418.4 243.3 1426 242.7 1432.2 241.3C1438.4 239.9 1444.8 237.1 1448.7 234.4C1452.7 231.6 1454.5 226.3 1455.6 224.7"/>
<path d="M1459.8 195.7C1459.6 199.6 1459.3 213 1458.4 219.2C1457.5 225.4 1455.4 228.4 1454.3 233C1453.1 237.6 1452.9 242.9 1451.5 246.8C1450.1 250.7 1449.2 253.2 1446 256.5C1442.8 259.7 1437.9 263.8 1432.2 266.1C1426.4 268.4 1418.4 269.8 1411.5 270.3C1404.6 270.7 1396.1 270 1390.8 268.9C1385.5 267.7 1381.6 264.3 1379.8 263.4"/>
<path d="M1382.5 191.6C1382.3 193.7 1380.7 199.9 1381.1 204C1381.6 208.2 1384.6 214.4 1385.3 216.4"/>
<path d="M1382.5 216.4L1363.2 224.7L1357.7 250.9L1363.2 241.3L1368.7 245.4L1368.7 270.3L1377 260.6L1379.8 244" stroke-width="6"/>
<path d="M1366 233C1367.3 234.8 1370.1 241.7 1374.2 244C1378.4 246.3 1385.7 247.5 1390.8 246.8C1395.9 246.1 1402.3 241 1404.6 239.9"/>
</g>
<g fill="none" stroke="#7e6052" stroke-width="5.5" stroke-linecap="round" stroke-linejoin="round">
<ellipse cx="2720.9" cy="429.4" rx="74.2" ry="54.9" transform="rotate(-3 2720.9 429.4)"/>
<path d="M2655.4 411.3C2660.4 411.7 2675.6 413.8 2685.6 414.2C2695.5 414.6 2704.5 414.1 2714.9 413.5C2725.2 412.9 2738 412 2747.7 410.4C2757.3 408.8 2768.5 404.9 2772.7 403.8"/>
<path d="M2651.9 443.2C2656.7 444.9 2671.3 451.1 2680.4 453.5C2689.4 456 2697.9 457.5 2706.3 457.8C2714.6 458.2 2723.2 456.6 2730.4 455.6C2737.6 454.6 2743.1 453 2749.4 451.8C2755.7 450.6 2761.5 450.6 2768.4 448.3C2775.3 446 2787.1 439.7 2790.8 438"/>
<path d="M2701.1 486.3L2694.2 581.2"/>
<path d="M2708 488L2711.4 577.7"/>
<path d="M2666.6 469.1L2647.6 500.1"/>
<path d="M2673.5 472.5L2659.7 498.4"/>
<path d="M2778.7 477.7L2827 550.1"/>
<path d="M2771.8 482.9L2815 550.1"/>
<path d="M2720.1 496.7L2718.3 522.5"/>
<path d="M2756.3 491.5L2756.3 515.6"/>
<path d="M2720.9 509.6C2722.2 510.2 2726 512.3 2728.7 513C2731.4 513.8 2734.5 514.3 2737.3 514.3C2740.2 514.3 2743.2 513.9 2746 513C2748.7 512.2 2752.4 509.7 2753.7 509.1"/>
<path d="M2720.9 501.8C2722.2 502.4 2726 504.2 2728.7 504.9C2731.4 505.7 2734.5 506.1 2737.3 506.1C2740.2 506.1 2743.1 505.8 2746 504.9C2748.8 504.1 2753.1 501.6 2754.6 501"/>
<path d="M2645.9 498.4L2694.2 581.2L2830.5 550.1"/>
<path d="M2702.8 532.9L2797.7 515.6"/>
<path d="M2706.3 546.7L2806.3 526"/>
<path d="M2716.6 557L2813.2 539.8"/>
<path d="M2713.2 574.3L2823.6 551.9"/>
<path d="M2656.2 505.3L2692.5 572.6"/>
<path d="M2668.3 491.5L2697.6 539.8"/>
<path d="M2676.9 479.4L2695.9 522.5"/>
<path d="M2678.7 493.2L2695.9 488"/>
</g>
<g fill="none" stroke="#7e6052" stroke-width="5.2" stroke-linecap="round" stroke-linejoin="round">
<path d="M3694.1 407.9C3684.2 407.5 3652.5 405.5 3634.5 405.1C3616.5 404.8 3593.5 402.8 3586.1 406.1C3578.6 409.3 3586.4 417.3 3589.8 424.7C3593.2 432.2 3601 442.7 3606.6 450.8C3612.2 458.9 3618.7 463.8 3623.3 473.1C3628 482.5 3630.5 497.7 3634.5 506.7C3638.6 515.7 3645.4 523.8 3647.6 527.2"/>
<path d="M3647.6 527.2L3737 540.2"/>
<path d="M3587.9 410.7L3694.1 413.2"/>
<path d="M3593.5 417.3L3697.9 426.6"/>
<path d="M3597.3 430.3L3699.7 443.3"/>
<path d="M3606.6 445.2L3703.4 460.1"/>
<path d="M3615.9 460.1L3707.2 473.1"/>
<path d="M3625.2 473.1L3709 488.1"/>
<path d="M3632.7 486.2L3714.6 501.1"/>
<path d="M3636.4 499.2L3718.3 514.1"/>
<path d="M3640.1 510.4L3723.9 525.3"/>
<path d="M3643.8 519.7L3729.5 532.8"/>
<path d="M3695.1 409.8L3707.2 454.5L3722.1 506.7L3737 540.2" stroke-width="11"/>
<path d="M3701.6 417.3L3714.6 469.4L3733.3 529"/>
<path d="M3697.9 409.8C3702.8 414.2 3716.5 424.4 3727.7 435.9C3738.8 447.4 3752.5 464.5 3764.9 478.7C3777.3 493 3791.9 510.1 3802.2 521.6C3812.4 533.1 3822.4 543.3 3826.4 547.7"/>
<path d="M3710.9 424.7C3715.2 431.5 3728 451.4 3737 465.7C3746 480 3757.2 497.4 3764.9 510.4C3772.7 523.4 3780.4 538.3 3783.6 543.9"/>
<path d="M3737 521.6C3738.5 519.7 3741.6 512.3 3746.3 510.4C3751 508.5 3759.6 509.2 3764.9 510.4C3770.2 511.6 3775.8 516.6 3778 517.9"/>
<path d="M3725.8 536.5C3728.6 533.4 3737 532.8 3742.6 532.8C3748.2 532.8 3756.2 534 3759.3 536.5C3762.4 539 3761.8 544.6 3761.2 547.7C3760.6 550.8 3759.6 553.6 3755.6 555.1C3751.6 556.7 3741.9 557.6 3737 557C3732 556.4 3727.7 554.8 3725.8 551.4C3723.9 548 3723 539.6 3725.8 536.5Z"/>
<path d="M3690.4 545.8L3725.8 542.1"/>
<path d="M3690.4 564.4L3727.7 568.2"/>
<path d="M3690.4 545.8C3689.9 547.4 3687.6 552 3687.6 555.1C3687.6 558.2 3689.9 562.9 3690.4 564.4"/>
<path d="M3714.6 543.9C3715.1 546.1 3715.9 552.9 3717.4 557C3719 561 3722.9 566.3 3723.9 568.2"/>
<path d="M3630.8 540.2C3632.7 539.9 3638.6 538 3642 538.3C3645.4 538.7 3648.2 541.8 3651.3 542.1C3654.4 542.4 3657.2 540.7 3660.6 540.2C3664 539.7 3668.4 538.7 3671.8 539.3C3675.2 539.9 3679.5 543.2 3681.1 543.9"/>
<path d="M3630.8 540.2L3632.7 551.4L3625.2 577.5L3642 580.3L3649.4 558.8"/>
<path d="M3634.5 553.3L3690.4 547.7"/>
<path d="M3647.6 559.8L3690.4 564.4"/>
<ellipse cx="3671.8" cy="579.3" rx="17.7" ry="11.2" transform="rotate(10 3671.8 579.3)"/>
<ellipse cx="3671.8" cy="582.7" rx="9.3" ry="4.7" transform="rotate(10 3671.8 582.7)"/>
<ellipse cx="3768.6" cy="598" rx="39.5" ry="27.9" transform="rotate(12 3768.6 598)"/>
<ellipse cx="3770.5" cy="612.9" rx="22.4" ry="10.2" transform="rotate(10 3770.5 612.9)"/>
<path d="M3778 547.7C3782 547 3794.1 544.2 3802.2 543.9C3810.3 543.6 3821.4 543.3 3826.4 545.8C3831.4 548.3 3832.3 554.2 3832 558.8C3831.7 563.5 3829.2 569.4 3824.5 573.7C3819.9 578.1 3807.5 583.1 3804 584.9"/>
<path d="M3792.9 547.7C3793.5 550.8 3795 560.4 3796.6 566.3C3798.1 572.2 3801.3 580.3 3802.2 583.1"/>
<path d="M3802.2 545.8C3803.1 548.6 3806.2 557 3807.8 562.6C3809.3 568.2 3810.9 576.5 3811.5 579.3"/>
<path d="M3822.7 547.7C3823.3 549.5 3826.1 554.8 3826.4 558.8C3826.7 562.9 3824.8 569.7 3824.5 571.9"/>
<path d="M3727.7 568.2L3738.8 575.6"/>
</g>
<g fill="none" stroke="#7e6052" stroke-width="6" stroke-linecap="round" stroke-linejoin="round">
<path d="M2585.3 1676.9L2658.8 1858"/>
<path d="M2596.6 1691.1L2653.2 1826.9"/>
<path d="M2585.3 1676.9C2591.9 1668 2612.2 1640.6 2624.9 1623.2C2637.6 1605.7 2651.3 1585.9 2661.7 1572.3C2672 1558.6 2682.9 1546.3 2687.1 1541.1"/>
<path d="M2687.1 1541.1C2690.9 1539.9 2701.8 1535.5 2709.8 1534.1C2717.8 1532.6 2729.6 1531 2735.2 1532.6C2740.9 1534.3 2742.3 1542.1 2743.7 1544"/>
<path d="M2692.8 1555.3C2696.6 1554.1 2707.4 1550.1 2715.4 1548.2C2723.5 1546.3 2736.7 1544.7 2740.9 1544"/>
<path d="M2687.1 1541.1L2692.8 1555.3L2667.3 1566.6"/>
<path d="M2661.7 1570.8C2664 1569.9 2670.6 1564.9 2675.8 1565.2C2681 1565.4 2688.6 1567.8 2692.8 1572.3C2697 1576.7 2704.1 1588.8 2701.3 1592.1C2698.5 1595.4 2682.4 1595.6 2675.8 1592.1C2669.2 1588.5 2664 1574.4 2661.7 1570.8"/>
<path d="M2675.8 1592.1L2658.8 1841.1"/>
<path d="M2698.5 1594.9C2698.9 1604.3 2702.2 1627.9 2701.3 1651.5C2700.3 1675.1 2696.6 1710.4 2692.8 1736.4C2689 1762.3 2683.8 1789.7 2678.7 1807.1C2673.5 1824.6 2664.5 1835.4 2661.7 1841.1"/>
<path d="M2701.3 1651.5L2721.1 1648.7"/>
<path d="M2718.3 1603.4L2704.1 1858"/>
<path d="M2729.6 1606.2L2709.8 1860.9"/>
<path d="M2723.9 1604.8L2706.9 1859.5"/>
<path d="M2709.8 1600.5L2772 1589.2"/>
<path d="M2735.2 1614.7L2783.3 1606.2"/>
<path d="M2709.8 1600.5L2712.6 1607.6L2774.9 1594.9"/>
<path d="M2743.7 1544C2747.5 1550.6 2760.2 1575.6 2766.4 1583.6C2772.5 1591.6 2778.2 1590.6 2780.5 1592.1"/>
<path d="M2780.5 1592.1C2787.6 1602.9 2808.8 1635 2823 1657.1C2837.1 1679.3 2854.1 1707.1 2865.4 1725.1C2876.7 1743 2887.1 1754.3 2890.9 1764.7C2894.6 1775 2894.6 1777.9 2888 1787.3C2881.4 1796.7 2866.8 1811.8 2851.3 1821.3C2835.7 1830.7 2817.3 1836.8 2794.7 1843.9C2772 1851 2728.6 1860.4 2715.4 1863.7"/>
<path d="M2658.8 1858L2698.5 1875L2936.1 1801.5"/>
<path d="M2715.4 1865.1L2936.1 1793"/>
<path d="M2658.8 1841.1L2678.7 1839.7L2684.3 1849.6L2698.5 1848.1L2704.1 1863.7"/>
<path d="M2774.9 1603.4L2823 1676.9L2879.6 1759L2919.2 1781.6" stroke-width="9"/>
<path d="M2757.9 1544L2919.2 1787.3"/>
<path d="M2774.9 1549.6C2775.8 1548.7 2777.7 1544.4 2780.5 1544C2783.3 1543.5 2786.6 1540.7 2791.8 1546.8C2797 1552.9 2799.4 1560.5 2811.6 1580.7C2823.9 1601 2847 1638.7 2865.4 1668.5C2883.8 1698.2 2912.6 1743.9 2922 1759"/>
<path d="M2774.9 1549.6L2783.3 1575.1L2808.8 1570.8"/>
<path d="M2817.3 1583.6C2819.7 1584 2828.6 1583.6 2831.5 1586.4C2834.3 1589.2 2833.8 1598.2 2834.3 1600.5"/>
<path d="M2910.7 1787.3L2922 1784.5L2919.2 1776"/>
<path d="M2936.1 1764.7L2941.8 1781.6L2933.3 1804.3"/>
<path d="M2919.2 1770.3L2939 1763.3"/>
<path d="M2796.1 1788.7C2791.6 1783.8 2793 1761.6 2789 1753.3C2785 1745.1 2776 1744.9 2772 1739.2C2768 1733.5 2764.5 1726 2765 1719.4C2765.4 1712.8 2769.9 1703.8 2774.9 1699.6C2779.8 1695.3 2788.3 1693 2794.7 1693.9C2801 1694.9 2809 1700.1 2813.1 1705.2C2817.1 1710.4 2819.4 1718.9 2818.7 1725.1C2818 1731.2 2811.2 1737.3 2808.8 1742C2806.5 1746.7 2803.4 1746.5 2804.6 1753.3C2805.7 1760.2 2817.3 1777.2 2815.9 1783.1C2814.5 1789 2800.6 1793.7 2796.1 1788.7Z" stroke-width="9"/>
<path d="M2636.2 1727.9C2636.4 1723.6 2638.1 1710.4 2637.6 1702.4C2637.2 1694.4 2633.6 1687.3 2633.4 1679.8C2633.1 1672.2 2634.3 1662.8 2636.2 1657.1C2638.1 1651.5 2641.9 1645.8 2644.7 1645.8C2647.5 1645.8 2651.5 1650.5 2653.2 1657.1C2654.8 1663.7 2655.1 1677.9 2654.6 1685.4C2654.1 1693 2652.2 1700.5 2650.4 1702.4C2648.5 1704.3 2645.2 1694.4 2643.3 1696.8C2641.4 1699.1 2640.2 1711.4 2639 1716.6C2637.9 1721.7 2636.7 1726 2636.2 1727.9C2635.7 1729.8 2636 1732.1 2636.2 1727.9Z"/>
<ellipse cx="2568.3" cy="1651.5" rx="19.2" ry="13.6" transform="rotate(0 2568.3 1651.5)"/>
<path d="M2551.3 1657.1C2552.3 1659 2553.7 1665.9 2557 1668.5C2560.3 1671.1 2566.9 1673.2 2571.1 1672.7C2575.4 1672.2 2580.6 1666.8 2582.4 1665.6"/>
<path d="M2562.6 1668.5C2564.1 1669.9 2567.8 1676.2 2571.1 1676.9C2574.4 1677.7 2580.6 1673.4 2582.4 1672.7"/>
<ellipse cx="2658.8" cy="1877.9" rx="24.1" ry="24.1" transform="rotate(0 2658.8 1877.9)"/>
<path d="M2634.8 1880.7C2636 1883.5 2637.4 1893.6 2641.9 1897.7C2646.3 1901.7 2655.5 1905.2 2661.7 1904.7C2667.8 1904.3 2675.8 1896.5 2678.7 1894.8" stroke-width="10"/>
<ellipse cx="2970.1" cy="1781.6" rx="22.6" ry="17.5" transform="rotate(0 2970.1 1781.6)"/>
<path d="M2948.9 1793C2950.5 1794.8 2953.8 1802.2 2958.8 1804.3C2963.7 1806.4 2973.4 1807.6 2978.6 1805.7C2983.8 1803.8 2988 1795.1 2989.9 1793"/>
<path d="M2956 1804.3C2958.3 1805.5 2965.4 1811.4 2970.1 1811.4C2974.8 1811.4 2981.9 1805.5 2984.3 1804.3"/>
</g>
<g fill="none" stroke="#7e6052" stroke-width="8.6" stroke-linecap="round" stroke-linejoin="round">
<path d="M1035 1677.7C1030.2 1681.4 1018.8 1688 1012.9 1695.4C1007 1702.8 1002 1712.7 999.6 1721.9C997.2 1731.1 996.7 1741.8 998.5 1750.6C1000.4 1759.5 1005.7 1769 1010.7 1774.9C1015.6 1780.8 1022.5 1785.6 1028.3 1786C1034.2 1786.3 1039.4 1782.3 1046 1777.1C1052.6 1772 1061.5 1762.8 1068.1 1755C1074.7 1747.3 1081.7 1738.1 1085.8 1730.8C1089.8 1723.4 1092.4 1718.6 1092.4 1710.9C1092.4 1703.1 1089.1 1691.4 1085.8 1684.4C1082.5 1677.4 1077.7 1672.2 1072.5 1668.9C1067.4 1665.6 1060 1663.8 1054.9 1664.5C1049.7 1665.2 1044.9 1671.1 1041.6 1673.3C1038.3 1675.5 1039.8 1674.1 1035 1677.7Z"/>
<path d="M1035 1677.7C1031.3 1674.4 1019.1 1665.2 1012.9 1657.9C1006.6 1650.5 1000.7 1641.7 997.4 1633.6C994.1 1625.5 992.6 1616.3 993 1609.3C993.4 1602.3 996.3 1595.7 999.6 1591.6C1002.9 1587.6 1007.4 1585.7 1012.9 1585C1018.4 1584.2 1026.5 1586.8 1032.8 1587.2C1039 1587.6 1046 1585 1050.4 1587.2C1054.9 1589.4 1057.2 1594.5 1059.3 1600.4C1061.3 1606.3 1062.6 1615.2 1062.6 1622.5C1062.6 1629.9 1061.7 1638.4 1059.3 1644.6C1056.9 1650.9 1050.1 1657.5 1048.2 1660.1"/>
<ellipse cx="982" cy="1580.6" rx="9.9" ry="21.6" transform="rotate(-32 982 1580.6)"/>
<ellipse cx="1012.9" cy="1558.9" rx="11" ry="24.7" transform="rotate(-4 1012.9 1558.9)"/>
<ellipse cx="1049.3" cy="1570" rx="14.6" ry="15.5" transform="rotate(0 1049.3 1570)"/>
<path d="M1081.4 1622.5C1081.7 1616.3 1082.8 1608.5 1085.8 1604.9C1088.7 1601.2 1094.2 1599.7 1099 1600.4C1103.8 1601.2 1110.4 1604.1 1114.5 1609.3C1118.5 1614.4 1122.2 1624 1123.3 1631.4C1124.4 1638.7 1123.7 1647.9 1121.1 1653.4C1118.5 1659 1112.6 1663.8 1107.9 1664.5C1103.1 1665.2 1096.5 1661.5 1092.4 1657.9C1088.4 1654.2 1085.4 1648.3 1083.6 1642.4C1081.7 1636.5 1081 1628.8 1081.4 1622.5Z"/>
<path d="M1085.8 1717.5C1085 1712.3 1086.5 1696.5 1090.2 1688.8C1093.9 1681.1 1101.6 1674.4 1107.9 1671.1C1114.1 1667.8 1122.6 1667.4 1127.7 1668.9C1132.9 1670.4 1136.2 1675.9 1138.8 1680C1141.4 1684 1144.3 1688.8 1143.2 1693.2C1142.1 1697.6 1137.3 1702.8 1132.2 1706.5C1127 1710.1 1118.5 1713.1 1112.3 1715.3C1106 1717.5 1099 1719.3 1094.6 1719.7C1090.2 1720.1 1086.5 1722.7 1085.8 1717.5Z"/>
<path d="M1138.8 1675.5C1138.4 1671.1 1139.9 1657.9 1143.2 1651.2C1146.5 1644.6 1153.5 1638.4 1158.7 1635.8C1163.8 1633.2 1170.4 1633.9 1174.1 1635.8C1177.8 1637.6 1180.8 1642 1180.8 1646.8C1180.8 1651.6 1177.4 1660.1 1174.1 1664.5C1170.8 1668.9 1165.7 1671.1 1160.9 1673.3C1156.1 1675.5 1149.1 1677.4 1145.4 1677.7C1141.7 1678.1 1139.2 1680 1138.8 1675.5Z"/>
</g>
<g fill="none" stroke="#7e6052" stroke-width="7.5" stroke-linecap="round" stroke-linejoin="round">
<ellipse cx="1245.9" cy="1544.1" rx="21" ry="23.2" transform="rotate(0 1245.9 1544.1)"/>
<ellipse cx="1298.9" cy="1540.8" rx="15.5" ry="23.9" transform="rotate(35 1298.9 1540.8)"/>
<path d="M1258.1 1573.9C1255.8 1578 1250.7 1585.3 1249.2 1591.6C1247.7 1597.9 1250 1606.3 1249.2 1611.5C1248.5 1616.6 1243.3 1621.1 1244.8 1622.5C1246.3 1624 1252.9 1622.5 1258.1 1620.3C1263.2 1618.1 1270.6 1613.7 1275.7 1609.3C1280.9 1604.9 1285.7 1599 1289 1593.8C1292.3 1588.7 1295.6 1583.1 1295.6 1578.3C1295.6 1573.6 1292.3 1568.4 1289 1565.1C1285.7 1561.8 1280.1 1558.1 1275.7 1558.5C1271.3 1558.8 1265.4 1564.7 1262.5 1567.3C1259.5 1569.9 1260.3 1569.9 1258.1 1573.9Z"/>
</g>
<g fill="none" stroke="#be605c" stroke-linecap="round" stroke-linejoin="round">
<path transform="scale(1 0.9217)" d="M467.1 1260.9C475.4 1260.9 501.9 1261.1 516.8 1260.9C531.7 1260.7 540.8 1260.6 556.5 1259.8C572.3 1259.1 595.4 1258.2 611.2 1256.6C626.9 1255 636 1253.2 650.9 1250.1C665.8 1247.1 686.5 1243.2 700.6 1238.3C714.7 1233.3 722.2 1229.3 735.4 1220.5C748.7 1211.7 766.9 1195.8 780.1 1185.4C793.4 1175.1 803.3 1168.8 814.9 1158.5C826.5 1148.2 840.6 1135.1 849.7 1123.5C858.8 1111.8 862.1 1101.4 869.6 1088.4C877 1075.4 888.2 1057.9 894.4 1045.3C900.6 1032.7 901.4 1025.5 906.8 1012.9C912.2 1000.4 920.5 982.4 926.7 969.8C932.9 957.2 935.4 948.2 944.1 937.5C952.8 926.7 968.1 915 978.9 905.1" stroke-width="9.3" stroke-dasharray="43.2 45.6" stroke-dashoffset="0"/>
<path transform="scale(1 0.8231)" d="M978.9 1013.5C989.6 1002.5 997.9 994.4 1008.7 983.4C1019.5 972.3 1034.4 959.2 1043.5 947.1C1052.6 935.1 1058 923 1063.4 910.9C1068.7 898.8 1072.5 889.7 1075.8 874.7C1079.1 859.7 1079.5 842 1083.2 821C1087 799.9 1092.8 767.6 1098.1 748.5C1103.5 729.4 1108.1 717.3 1115.5 706.3C1123 695.2 1130.8 688.7 1142.9 682.1C1154.9 675.6 1174.3 670.6 1187.6 667C1200.8 663.5 1202.8 663.7 1222.4 661C1241.9 658.3 1283.2 654.3 1304.8 650.7C1326.5 647.2 1338.8 644.7 1352 639.9" stroke-width="9" stroke-dasharray="39.2 43.2" stroke-dashoffset="66.8"/>
<path transform="scale(1 0.7559)" d="M1352 696.8C1365.3 691.6 1372.3 684.2 1384.3 677.1C1396.4 670 1412.9 662.3 1424.1 654.1C1435.3 645.9 1441.1 637.6 1451.4 627.8C1461.8 617.9 1476.3 605.9 1486.2 594.9C1496.1 584 1503.2 573.6 1511.1 562.1C1518.9 550.5 1528 537.9 1533.4 525.9C1538.8 513.8 1539.6 502.3 1543.4 489.7C1547.1 477.1 1551.2 462.9 1555.8 450.3C1560.3 437.7 1562.8 424 1570.7 414.1C1578.6 404.3 1591.8 396.8 1603 391.1C1614.2 385.4 1624.9 382.2 1637.8 380C1650.6 377.8 1667.2 377.8 1680 378C1692.8 378.2 1701.9 379.6 1714.8 381.3C1727.6 382.9 1744.6 385.1 1757 387.8" stroke-width="8.7" stroke-dasharray="36.5 41.6" stroke-dashoffset="9.9"/>
<path transform="scale(1 0.7701)" d="M1757 380.7C1769.4 383.4 1777.7 385.5 1789.3 390.4C1800.9 395.2 1816.2 401.7 1826.6 409.7C1836.9 417.8 1844 428.6 1851.4 438.8C1858.9 449 1865.9 459.7 1871.3 471C1876.7 482.3 1879.6 493.6 1883.7 506.5C1887.9 519.4 1893.3 534 1896.1 548.5C1899 563 1900.7 578.6 1901.1 593.6C1901.5 608.7 1899.9 625.9 1898.6 638.8C1897.4 651.7 1898.6 660.9 1893.7 671.1C1888.7 681.3 1877.9 690.4 1868.8 700.1C1859.7 709.8 1850.2 720.5 1839 729.1C1827.8 737.7 1814.2 744.2 1801.7 751.7C1789.3 759.3 1775.7 766.2 1764.5 774.3" stroke-width="8.7" stroke-dasharray="37.1 41.9" stroke-dashoffset="36"/>
<path transform="scale(1 0.8299)" d="M1764.5 718.5C1753.3 725.9 1742.5 732.4 1734.7 742.4C1726.8 752.4 1721.4 765.4 1717.3 778.3C1713.1 791.3 1710.2 807.3 1709.8 820.2C1709.4 833.2 1711.1 843.3 1714.8 856.2C1718.5 869 1728.2 886.8 1732.2 897.5C1736.1 908.1 1736.6 912.2 1738.6 920.2" stroke-width="9" stroke-dasharray="39.5 43.4" stroke-dashoffset="11.4"/>
<path transform="scale(1 0.8770)" d="M1738.6 870.9C1740.7 878.4 1742.8 885 1744.6 894.7C1746.4 904.3 1750 916.4 1749.6 928.7C1749.2 940.9 1746.3 955.1 1742.1 968.3C1738 981.5 1730.5 995.2 1724.7 1008C1718.9 1020.7 1713.5 1032.1 1707.3 1044.8C1701.1 1057.6 1693.1 1072.4 1687.5 1084.5C1681.8 1096.6 1677.7 1104.6 1673.5 1117.3" stroke-width="9.2" stroke-dasharray="41.4 44.5" stroke-dashoffset="73.3"/>
<path transform="scale(1 0.9310)" d="M1673.5 1052.5C1669.4 1064.5 1663.2 1079.6 1662.6 1093.5C1662 1107.5 1665.9 1122.5 1670.1 1136.2C1674.2 1150 1681.2 1163.8 1687.5 1176.3C1693.7 1188.7 1700.3 1201.2 1707.3 1211C1714.4 1220.7 1724.1 1229 1729.7 1235C1735.2 1240.9 1734.4 1240.9 1740.6 1246.7" stroke-width="9.4" stroke-dasharray="43.5 45.8" stroke-dashoffset="81.6"/>
<path transform="scale(1 0.9572)" d="M1740.6 1212.7C1746.8 1218.3 1754.7 1228.3 1767 1235C1779.2 1241.8 1799.7 1249.7 1814.2 1253.2C1828.7 1256.6 1839 1256 1853.9 1255.8C1868.8 1255.5 1889.8 1253.8 1903.6 1251.6C1917.4 1249.5 1921.6 1244.7 1936.9 1242.8" stroke-width="9.5" stroke-dasharray="44.6 46.4" stroke-dashoffset="34.1"/>
<path transform="scale(1 0.9609)" d="M1936.9 1237.9C1952.2 1236 1979.1 1235.9 1995.5 1235.3C2011.9 1234.7 2020.4 1232.6 2035.3 1234.3C2050.2 1236 2070.9 1240.3 2085 1245.7C2099 1251 2106.7 1257.9 2119.8 1266.4C2132.8 1274.8 2151.5 1287.3 2163.5 1296.4" stroke-width="9.5" stroke-dasharray="44.7 46.5" stroke-dashoffset="63.4"/>
<path transform="scale(1 0.9847)" d="M2163.5 1265.1C2175.5 1273.9 2180.5 1280.2 2191.8 1288.8C2203.1 1297.4 2218.7 1308.7 2231.6 1316.5C2244.4 1324.4 2254.3 1330 2268.8 1335.7C2283.3 1341.4 2298.8 1347.3 2318.5 1350.9C2338.2 1354.4 2364.7 1354.6 2387.1 1356.9" stroke-width="9.6" stroke-dasharray="45.7 47.1" stroke-dashoffset="35"/>
<path transform="scale(1 0.9970)" d="M2387.1 1340.1C2409.4 1342.3 2432.6 1345.1 2452.7 1347.6C2472.7 1350.1 2487 1352 2507.3 1355.1C2527.7 1358.1 2553.3 1360.6 2574.9 1366" stroke-width="9.6" stroke-dasharray="46.2 47.4" stroke-dashoffset="7.3"/>
<path transform="scale(1 1.0000)" d="M2574.9 1362C2596.5 1367.4 2618 1376.1 2637 1383.4C2656.1 1390.6 2674.7 1399.1 2689.2 1405.7C2703.7 1412.3 2710.7 1418 2724 1423.1C2737.2 1428.2 2753.4 1430.4 2768.7 1436.5" stroke-width="9.7" stroke-dasharray="46.7 47.7" stroke-dashoffset="11.7"/>
<path transform="scale(1 1.0000)" d="M2768.7 1436.5C2784 1442.7 2798.5 1455.6 2815.9 1459.9C2833.3 1464.2 2857.7 1463.9 2873 1462.4C2888.4 1460.9 2895.4 1456.4 2907.8 1450.9C2920.2 1445.5 2936.4 1435.6 2947.6 1429.6C2958.8 1423.5 2968.3 1421.9 2974.9 1414.7" stroke-width="9.7" stroke-dasharray="47.1 48" stroke-dashoffset="32.9"/>
<path transform="scale(1 0.9890)" d="M2974.9 1430.3C2981.5 1423 2986.1 1410.7 2987.3 1401.2C2988.6 1391.7 2986.1 1384.5 2982.4 1373.6C2978.6 1362.7 2971.6 1349.3 2965 1335.9C2958.3 1322.5 2949 1306.6 2942.6 1293.2C2936.2 1279.8 2930.2 1266.8 2926.7 1255.5C2923.2 1244.2 2918.3 1237.1 2921.7 1225.4" stroke-width="9.6" stroke-dasharray="45.9 47.2" stroke-dashoffset="67.7"/>
<path transform="scale(1 0.9499)" d="M2921.7 1275.9C2925.2 1263.6 2936.2 1243.6 2947.6 1234C2958.9 1224.4 2976.6 1222.7 2989.8 1218.3C3003.1 1213.9 3012.6 1211.3 3027.1 1207.8C3041.6 1204.4 3063.9 1200.2 3076.8 1197.4C3089.6 1194.6 3090.4 1193.5 3104.1 1191.1" stroke-width="9.5" stroke-dasharray="44.3 46.3" stroke-dashoffset="11.6"/>
<path transform="scale(1 0.9346)" d="M3104.1 1210.7C3117.8 1208.2 3143.4 1205.5 3158.8 1202.2C3174.1 1198.8 3182.8 1195.1 3196 1190.5C3209.3 1185.8 3226.7 1181.2 3238.3 1174.5C3249.9 1167.9 3258.1 1159.3 3265.6 1150.6C3273 1141.9 3279.7 1134.4 3283 1122.4" stroke-width="9.4" stroke-dasharray="43.7 45.9" stroke-dashoffset="44.4"/>
<path transform="scale(1 0.8979)" d="M3283 1168.3C3286.3 1155.8 3286.3 1138.7 3285.5 1122.9C3284.6 1107 3280.5 1087.8 3278 1073.1C3275.5 1058.3 3272.6 1047.2 3270.6 1034.3C3268.5 1021.4 3266.4 1007.3 3265.6 995.6C3264.8 983.9 3265.2 976.5 3265.6 964.1" stroke-width="9.3" stroke-dasharray="42.2 45" stroke-dashoffset="76.3"/>
<path transform="scale(1 0.8572)" d="M3265.6 1009.8C3266 996.8 3265.2 978.4 3268.1 964.6C3271 950.8 3276.8 939 3283 926.9C3289.2 914.8 3297.5 901.8 3305.3 892.1C3313.2 882.5 3322.7 874.5 3330.2 868.9C3337.6 863.3 3337.6 861.6 3350.1 858.5" stroke-width="9.1" stroke-dasharray="40.6 44" stroke-dashoffset="22.6"/>
<path transform="scale(1 0.8430)" d="M3350.1 872.9C3362.5 869.8 3387.3 866.1 3404.7 864.7C3422.1 863.3 3437.8 864 3454.4 864.7C3471 865.4 3485.7 867.8 3504.1 868.8C3522.5 869.8 3544 868.1 3564.7 870.6" stroke-width="9" stroke-dasharray="40 43.7" stroke-dashoffset="38.8"/>
<path transform="scale(1 0.8464)" d="M3564.7 867.1C3585.4 869.6 3603.6 876.4 3628.3 880C3653 883.7 3687.8 887.7 3712.8 888.9C3737.8 890 3757.2 888.6 3778.4 887.1" stroke-width="9" stroke-dasharray="40.2 43.8" stroke-dashoffset="5.3"/>
<path transform="scale(1 0.8463)" d="M3778.4 887.2C3799.6 885.7 3819.5 882.3 3840 880.1C3860.5 878 3891.3 875.2 3901.6 874.3" stroke-width="9" stroke-dasharray="40.2 43.8" stroke-dashoffset="55"/>
<path transform="scale(1 0.9108)" d="M934.2 1062.3C940.6 1064.1 960.5 1068.4 972.9 1073.2C985.3 1077.9 997.8 1082.3 1008.7 1090.6C1019.6 1099 1030.4 1112.3 1038.5 1123.4C1046.6 1134.4 1054.2 1151.5 1057.4 1157.2" stroke-width="9.3" stroke-dasharray="4 42"/>
<path transform="scale(1 0.7582)" d="M1118 464.2C1125 468.3 1146.3 483.1 1160 488.6C1173.7 494.1 1186.5 494.7 1200 497.2C1213.5 499.7 1227.7 501 1241 503.8C1254.3 506.7 1267.3 509.8 1280 514.4C1292.7 518.9 1305.8 524.6 1317 531C1328.2 537.4 1340.7 542.2 1347.5 552.6C1354.3 563 1356.2 586.7 1358 593.5" stroke-width="8.7" stroke-dasharray="4 38.4"/>
<path transform="scale(1 0.8250)" d="M1764.5 722.8C1759.5 724.8 1746.7 730 1734.7 734.8C1722.7 739.6 1706.1 745.7 1692.4 751.7C1678.8 757.7 1665.5 763.5 1652.7 771C1639.8 778.4 1625.3 785.7 1615.4 796.3C1605.5 806.8 1597.2 821.4 1593 834.2C1588.9 846.9 1591.2 859.1 1590.6 872.7C1589.9 886.4 1589.3 908.9 1589.1 916.1" stroke-width="9" stroke-dasharray="4 40"/>
<path transform="scale(1 0.8643)" d="M1749.6 945.2C1752.5 951.2 1759.1 969.9 1767 981.4C1774.8 992.9 1785.2 1005.2 1796.8 1014.2C1808.4 1023.2 1822.9 1029.5 1836.5 1035.5C1850.2 1041.4 1863.9 1047.8 1878.8 1049.8C1893.7 1051.9 1910.8 1048.5 1926 1047.5C1941.1 1046.6 1955.4 1047.3 1969.7 1044.1C1984 1040.9 1998.1 1034.5 2011.9 1028.6C2025.8 1022.6 2039.7 1015.6 2052.7 1008.4C2065.7 1001.3 2078.9 994.6 2089.9 985.5C2101 976.3 2111.8 962.9 2118.8 953.8C2125.7 944.7 2127.4 936.8 2131.7 930.8C2136 924.9 2139 926.6 2144.6 918.2C2150.2 909.8 2158.4 892.5 2165.5 880.2C2172.5 868 2179.1 856 2186.8 844.6C2194.5 833.2 2202.6 822.1 2211.7 811.8C2220.8 801.6 2229.7 792.8 2241.5 783.1C2253.3 773.3 2275.4 758.2 2282.2 753.2" stroke-width="9.1" stroke-dasharray="4 40.9"/>
<path transform="scale(1 0.9318)" d="M1673.5 1051.6C1667.2 1059.2 1646.8 1083.7 1635.3 1096.9C1623.8 1110.2 1613.4 1118.9 1604.5 1131.1C1595.5 1143.2 1588.9 1156.7 1581.6 1170C1574.3 1183.3 1569.4 1198.4 1560.7 1211.1C1552.1 1223.7 1542.6 1237.5 1529.9 1245.7C1517.3 1254 1492.3 1258.2 1484.7 1260.7" stroke-width="9.4" stroke-dasharray="4 42.5"/>
<path transform="scale(1 1.0000)" d="M2163.5 1245.7C2167.8 1250.8 2180.5 1265.2 2189.3 1276.5C2198.2 1287.9 2208 1301 2216.6 1313.8C2225.3 1326.6 2235.3 1339.7 2241.5 1353.5C2247.7 1367.4 2252.7 1381.7 2253.9 1396.8C2255.2 1411.8 2252 1429.1 2248.9 1444C2245.9 1458.9 2240.9 1472.1 2235.5 1486.2C2230.1 1500.3 2222.4 1517.9 2216.6 1528.4C2210.8 1539 2206 1543.1 2200.7 1549.3C2195.5 1555.5 2193 1557 2185.3 1565.7C2177.6 1574.4 2161.3 1588.1 2154.5 1601.5C2147.7 1614.9 2143.4 1630.9 2144.6 1646.2C2145.8 1661.5 2156.6 1677.7 2162 1693.4C2167.4 1709.2 2176.1 1724.6 2176.9 1740.6C2177.7 1756.6 2174.8 1775.4 2167 1789.3C2159.1 1803.2 2143.5 1814.4 2129.7 1824.1C2115.9 1833.8 2091.6 1843.6 2084 1847.5" stroke-width="9.8" stroke-dasharray="4 45.3"/>
<path transform="scale(1 0.9683)" d="M2387.1 1379.9C2384.3 1373.1 2375.7 1353 2370.7 1338.9C2365.6 1324.8 2359.9 1310 2356.8 1295.2C2353.6 1280.5 2349.9 1264.9 2351.8 1250.6C2353.7 1236.3 2361.2 1223.5 2368.2 1209.5C2375.2 1195.6 2389.3 1174.1 2393.5 1167" stroke-width="9.5" stroke-dasharray="4 43.4"/>
<path transform="scale(1 0.9437)" d="M2921.7 1284.3C2918.2 1282.3 2907.7 1280.6 2900.4 1272.7C2893.1 1264.8 2886.1 1248.7 2878 1236.9C2869.9 1225 2861.8 1212.3 2851.7 1201.6C2841.6 1190.9 2830.1 1179.2 2817.4 1172.6C2804.6 1166 2789.2 1165.3 2775.2 1162.1C2761.1 1158.9 2743.3 1158.1 2732.9 1153.7C2722.6 1149.3 2716.4 1138.8 2713 1135.8" stroke-width="9.4" stroke-dasharray="4 42.8"/>
<path transform="scale(1 0.9206)" d="M3283 1139.4C3290.4 1135.6 3312.4 1120.1 3327.7 1116.7C3343 1113.3 3359.3 1118.3 3374.9 1118.9C3390.5 1119.4 3405.6 1116.9 3421.1 1120C3436.6 1123 3452.1 1130.2 3467.8 1137.2C3483.6 1144.2 3507.6 1157.9 3515.5 1162.1" stroke-width="9.3" stroke-dasharray="4 42.3"/>
<path transform="scale(1 1.0000)" d="M2974.9 1414.7C2976.1 1422.6 2979.7 1446.8 2982.4 1462.4C2985 1477.9 2987.2 1492.5 2990.8 1508.1C2994.4 1523.6 2996.9 1540.6 3003.7 1555.8C3010.6 1570.9 3020.1 1586.3 3032 1599C3044 1611.8 3058.7 1622.1 3075.3 1632.3C3091.8 1642.5 3122.1 1655.5 3131.4 1660.1" stroke-width="9.8" stroke-dasharray="4 45.3"/>
<path transform="scale(1 0.8279)" d="M3085.7 700.4C3091.4 706.7 3109.1 726.1 3120 738.2C3130.9 750.3 3140.7 761.5 3151.3 773.1C3161.9 784.6 3171.6 794.6 3183.6 807.3C3195.6 820 3209.7 840.9 3223.4 849.3C3237 857.7 3251.1 853.5 3265.6 857.7C3280.1 861.9 3296.2 869.3 3310.3 874.5C3324.4 879.7 3343.4 886.5 3350.1 888.9" stroke-width="9" stroke-dasharray="4 40"/>
<path transform="scale(1 0.7952)" d="M3399.8 437.4C3403.7 443.7 3416.1 462.2 3423.6 474.9C3431.1 487.6 3438.7 500.4 3444.5 513.7C3450.3 526.9 3455.2 540.4 3458.4 554.3C3461.5 568.1 3462.2 582.9 3463.4 596.8C3464.5 610.6 3463.9 624.2 3465.3 637.4C3466.7 650.6 3470.5 662.1 3471.8 676.1C3473.1 690.2 3471.2 706.9 3473.3 721.8C3475.4 736.6 3478.4 751.2 3484.2 765.5C3490 779.8 3499.1 793.8 3508.1 807.4C3517 820.9 3527.4 833.9 3537.9 846.7C3548.4 859.5 3566.7 871.5 3571.2 884.2C3575.7 896.9 3565.8 916.5 3564.7 923" stroke-width="8.8" stroke-dasharray="4 39.2"/>
</g>
<ellipse cx="1118.2" cy="351.7" rx="14" ry="10.2" fill="#f5a3a3"/>
<ellipse cx="1118.2" cy="351.7" rx="7.3" ry="5.3" fill="#8d8f90" stroke="#3f8f99" stroke-width="1.2"/>
<ellipse cx="1589.1" cy="755.8" rx="14.5" ry="11.9" fill="#f5a3a3"/>
<ellipse cx="1589.1" cy="755.8" rx="7.5" ry="6.2" fill="#8d8f90" stroke="#3f8f99" stroke-width="1.2"/>
<ellipse cx="1926" cy="905.3" rx="14.7" ry="12.6" fill="#f5a3a3"/>
<ellipse cx="1926" cy="905.3" rx="7.6" ry="6.6" fill="#8d8f90" stroke="#3f8f99" stroke-width="1.2"/>
<ellipse cx="2131.7" cy="804.5" rx="14.6" ry="12.2" fill="#f5a3a3"/>
<ellipse cx="2131.7" cy="804.5" rx="7.6" ry="6.3" fill="#8d8f90" stroke="#3f8f99" stroke-width="1.2"/>
<ellipse cx="2393.5" cy="1129.9" rx="15" ry="13.7" fill="#f5a3a3"/>
<ellipse cx="2393.5" cy="1129.9" rx="7.8" ry="7.1" fill="#8d8f90" stroke="#3f8f99" stroke-width="1.2"/>
<ellipse cx="2282.2" cy="650.9" rx="14.4" ry="11.5" fill="#f5a3a3"/>
<ellipse cx="2282.2" cy="650.9" rx="7.5" ry="6" fill="#8d8f90" stroke="#3f8f99" stroke-width="1.2"/>
<ellipse cx="2200.7" cy="1549.3" rx="15.5" ry="15" fill="#f5a3a3"/>
<ellipse cx="2200.7" cy="1549.3" rx="8" ry="7.8" fill="#8d8f90" stroke="#3f8f99" stroke-width="1.2"/>
<ellipse cx="2713" cy="1071.8" rx="14.9" ry="13.4" fill="#f5a3a3"/>
<ellipse cx="2713" cy="1071.8" rx="7.7" ry="7" fill="#8d8f90" stroke="#3f8f99" stroke-width="1.2"/>
<ellipse cx="3131.4" cy="1660.1" rx="15.6" ry="15.1" fill="#f5a3a3"/>
<ellipse cx="3131.4" cy="1660.1" rx="8.1" ry="7.9" fill="#8d8f90" stroke="#3f8f99" stroke-width="1.2"/>
<ellipse cx="3085.7" cy="579.9" rx="14.3" ry="11.2" fill="#f5a3a3"/>
<ellipse cx="3085.7" cy="579.9" rx="7.4" ry="5.8" fill="#8d8f90" stroke="#3f8f99" stroke-width="1.2"/>
<ellipse cx="3471.8" cy="537.6" rx="14.2" ry="11" fill="#f5a3a3"/>
<ellipse cx="3471.8" cy="537.6" rx="7.4" ry="5.7" fill="#8d8f90" stroke="#3f8f99" stroke-width="1.2"/>
<ellipse cx="3515.5" cy="1069.8" rx="15.5" ry="13.6" fill="#f2d413"/>
<ellipse cx="3515.5" cy="1069.8" rx="8.8" ry="7.9" fill="#8d8f90" stroke="#3f8f99" stroke-width="1.2"/>
<ellipse cx="1738.6" cy="763.7" rx="11.7" ry="9.4" fill="#8d8f90" stroke="#0c0c0c" stroke-width="6.7"/>
<ellipse cx="1673.5" cy="979.9" rx="12" ry="10.3" fill="#8d8f90" stroke="#0c0c0c" stroke-width="6.9"/>
<ellipse cx="1740.6" cy="1160.7" rx="12.2" ry="11" fill="#8d8f90" stroke="#0c0c0c" stroke-width="7"/>
<ellipse cx="1936.9" cy="1189.6" rx="12.3" ry="11.2" fill="#8d8f90" stroke="#0c0c0c" stroke-width="7"/>
<ellipse cx="2163.5" cy="1245.7" rx="12.3" ry="11.4" fill="#8d8f90" stroke="#0c0c0c" stroke-width="7.1"/>
<ellipse cx="2387.1" cy="1336.1" rx="12.5" ry="11.8" fill="#8d8f90" stroke="#0c0c0c" stroke-width="7.1"/>
<ellipse cx="2574.9" cy="1362" rx="12.5" ry="11.9" fill="#8d8f90" stroke="#0c0c0c" stroke-width="7.2"/>
<ellipse cx="2768.7" cy="1435.5" rx="12.6" ry="12" fill="#8d8f90" stroke="#0c0c0c" stroke-width="7.2"/>
<ellipse cx="2974.9" cy="1414.7" rx="12.6" ry="12" fill="#8d8f90" stroke="#0c0c0c" stroke-width="7.2"/>
<ellipse cx="2921.7" cy="1211.9" rx="12.3" ry="11.2" fill="#8d8f90" stroke="#0c0c0c" stroke-width="7"/>
<ellipse cx="3104.1" cy="1131.4" rx="12.2" ry="10.9" fill="#8d8f90" stroke="#0c0c0c" stroke-width="7"/>
<ellipse cx="3283" cy="1048.9" rx="12.1" ry="10.6" fill="#8d8f90" stroke="#0c0c0c" stroke-width="6.9"/>
<ellipse cx="3265.6" cy="865.6" rx="11.8" ry="9.8" fill="#8d8f90" stroke="#0c0c0c" stroke-width="6.8"/>
<ellipse cx="3350.1" cy="735.9" rx="11.6" ry="9.3" fill="#8d8f90" stroke="#0c0c0c" stroke-width="6.7"/>
<ellipse cx="3564.7" cy="733.9" rx="11.6" ry="9.3" fill="#8d8f90" stroke="#0c0c0c" stroke-width="6.7"/>
<ellipse cx="3778.4" cy="750.8" rx="11.7" ry="9.4" fill="#8d8f90" stroke="#0c0c0c" stroke-width="6.7"/>
<text transform="translate(619.8 548.7) rotate(-9.30) skewX(-13)" font-size="41" font-weight="bold" fill="#6a3514" stroke="#6a3514" stroke-width="0" stroke-linejoin="round" textLength="471.4" lengthAdjust="spacingAndGlyphs" style="font-family:'Liberation Sans',sans-serif">SALTWIND EXPANSE</text>
<text transform="translate(2152 225.4) rotate(6.14) skewX(-12)" font-size="36" font-weight="bold" fill="#6a3514" stroke="#6a3514" stroke-width="0" stroke-linejoin="round" textLength="391.6" lengthAdjust="spacingAndGlyphs" style="font-family:'Liberation Sans',sans-serif">THE SHARDLANDS</text>
<text transform="translate(3388.5 926.2) rotate(-7.67) skewX(0)" font-size="50" font-weight="bold" fill="#6a3514" stroke="#6a3514" stroke-width="0.8" stroke-linejoin="round" textLength="436.8" lengthAdjust="spacingAndGlyphs" style="font-family:'Liberation Sans',sans-serif">WHISPERING FLATS</text>
<text transform="translate(2424 1474.5) rotate(6.10) skewX(-6)" font-size="61" font-weight="bold" fill="#6a3514" stroke="#6a3514" stroke-width="1.3" stroke-linejoin="round" textLength="282.1" lengthAdjust="spacingAndGlyphs" style="font-family:'Liberation Sans',sans-serif">THE SPINE</text>
</g>
<defs><linearGradient id="lg" x1="0" y1="0" x2="1" y2="0"><stop offset="0" stop-color="#f2f0ec"/><stop offset="1" stop-color="#fbfaf7"/></linearGradient></defs>
<path d="M240.4 1805.8L827 1716.1L789.5 1965.2L181.4 2053.6Z" fill="url(#lg)" stroke="#0a0a0a" stroke-width="2.2" stroke-linejoin="miter"/>
<path d="M227 1986.6L766.7 1904.1L764 1926.4L223 2008Z" fill="#fbfbfb" stroke="#0a0a0a" stroke-width="2"/>
<path d="M334.1 1970.2L441.3 1953.8L437.8 1975.6L330.4 1991.8Z" fill="#050505"/>
<path d="M548.4 1937.5L655.5 1921.1L652.6 1943.2L545.2 1959.4Z" fill="#050505"/>
<text transform="matrix(0.995 -0.1483 -0.192 0.994 224 1976)" font-size="22" font-style="italic" font-weight="bold" fill="#0a0a0a" style="font-family:'DejaVu Serif','Liberation Serif',serif">0</text>
<text transform="matrix(0.995 -0.1483 -0.192 0.994 331 1960)" font-size="22" font-style="italic" font-weight="bold" fill="#0a0a0a" style="font-family:'DejaVu Serif','Liberation Serif',serif">1</text>
<text transform="matrix(0.995 -0.1483 -0.192 0.994 439 1944)" font-size="22" font-style="italic" font-weight="bold" fill="#0a0a0a" style="font-family:'DejaVu Serif','Liberation Serif',serif">2</text>
<text transform="matrix(0.995 -0.1483 -0.192 0.994 545 1928)" font-size="22" font-style="italic" font-weight="bold" fill="#0a0a0a" style="font-family:'DejaVu Serif','Liberation Serif',serif">3</text>
<text transform="matrix(0.995 -0.1483 -0.192 0.994 652 1912)" font-size="22" font-weight="bold" fill="#0a0a0a" style="font-family:'DejaVu Serif','Liberation Serif',serif" textLength="58" lengthAdjust="spacingAndGlyphs"><tspan font-style="italic">4</tspan> km</text>
<text transform="matrix(0.995 -0.1483 -0.192 0.994 259.5 1906.5)" font-size="73" font-style="italic" font-weight="bold" fill="#0a0a0a" style="font-family:'DejaVu Serif','Liberation Serif',serif" textLength="504" lengthAdjust="spacingAndGlyphs">DESERT MAP</text>
<g transform="translate(1056.2 1049.5) scale(1.0)"><use href="#flamepin"/><text x="-3" y="-43.5" font-size="28" text-anchor="middle" style="font-family:'Liberation Mono',monospace">a1</text></g>
<g transform="translate(1289.5 386.5) scale(0.94)"><use href="#flamepin"/><text x="-3" y="-43.5" font-size="28" text-anchor="middle" style="font-family:'Liberation Mono',monospace">b1</text></g>
<g transform="translate(511.8 1157.3) scale(1.112)"><use href="#gearpin"/><text x="-3" y="-39.9" font-size="27" text-anchor="middle" fill="#000">1</text></g>
<g transform="translate(719.5 1125) scale(1.105)"><use href="#sunpin"/><text x="-3" y="-39.9" font-size="27" text-anchor="middle" fill="#000">2</text></g>
<g transform="translate(869.6 992.3) scale(1.078)"><use href="#sunpin"/><text x="-3" y="-39.9" font-size="27" text-anchor="middle" fill="#000">3</text></g>
<g transform="translate(978.9 821.9) scale(1.043)"><use href="#sunpin"/><text x="-3" y="-39.9" font-size="27" text-anchor="middle" fill="#000">4</text></g>
<g transform="translate(1082.5 663.4) scale(1.010)"><use href="#sunpin"/><text x="-3" y="-39.9" font-size="27" text-anchor="middle" fill="#000">5</text></g>
<g transform="translate(1188.6 541.6) scale(0.985)"><use href="#gearpin"/><text x="-3" y="-39.9" font-size="27" text-anchor="middle" fill="#000">6</text></g>
<g transform="translate(1361 515.3) scale(0.979)"><use href="#sunpin"/><text x="-3" y="-39.9" font-size="27" text-anchor="middle" fill="#000">7</text></g>
<g transform="translate(1486.2 442.2) scale(0.964)"><use href="#gearpin"/><text x="-3" y="-39.9" font-size="27" text-anchor="middle" fill="#000">8</text></g>
<g transform="translate(1573.2 305.6) scale(0.936)"><use href="#sunpin"/><text x="-3" y="-39.9" font-size="27" text-anchor="middle" fill="#000">9</text></g>
<g transform="translate(1771.9 289.7) scale(0.933)"><use href="#sunpin"/><text x="-3" y="-40.6" font-size="25" text-anchor="middle" fill="#000">10</text></g>
<g transform="translate(1877.8 370.2) scale(0.949)"><use href="#sunpin"/><text x="-3" y="-40.6" font-size="25" text-anchor="middle" fill="#000">11</text></g>
<g transform="translate(1896.1 501.9) scale(0.977)"><use href="#sunpin"/><text x="-3" y="-40.6" font-size="25" text-anchor="middle" fill="#000">12</text></g>
<g transform="translate(1774.5 583.4)"><ellipse cx="0.5" cy="-1" rx="27.5" ry="10.6" fill="none" stroke="#0c0ab0" stroke-width="8.4"/><path d="M0 0L-25.3 -30A32.5 32.5 0 1 1 24.7 -30.5Z" fill="#0c0ab0"/><circle cx="-0.5" cy="-51" r="19.6" fill="#fff"/><text x="-0.5" y="-41.8" font-size="26" text-anchor="middle" fill="#000">13</text></g>
<circle cx="120" cy="120" r="59" fill="#04045e"/>
<path d="M108.2 81.5L113.1 69.9L126.9 69.9L131.8 81.5L138.9 84.4L150.6 79.7L160.3 89.4L155.6 101.1L158.5 108.2L170.1 113.1L170.1 126.9L158.5 131.8L155.6 138.9L160.3 150.6L150.6 160.3L138.9 155.6L131.8 158.5L126.9 170.1L113.1 170.1L108.2 158.5L101.1 155.6L89.4 160.3L79.7 150.6L84.4 138.9L81.5 131.8L69.9 126.9L69.9 113.1L81.5 108.2L84.4 101.1L79.7 89.4L89.4 79.7L101.1 84.4Z" fill="#fff" stroke="#fff" stroke-width="2.5" stroke-linejoin="round"/>
<circle cx="120" cy="120" r="24.8" fill="#04045e"/>
</svg>
</body></html>
